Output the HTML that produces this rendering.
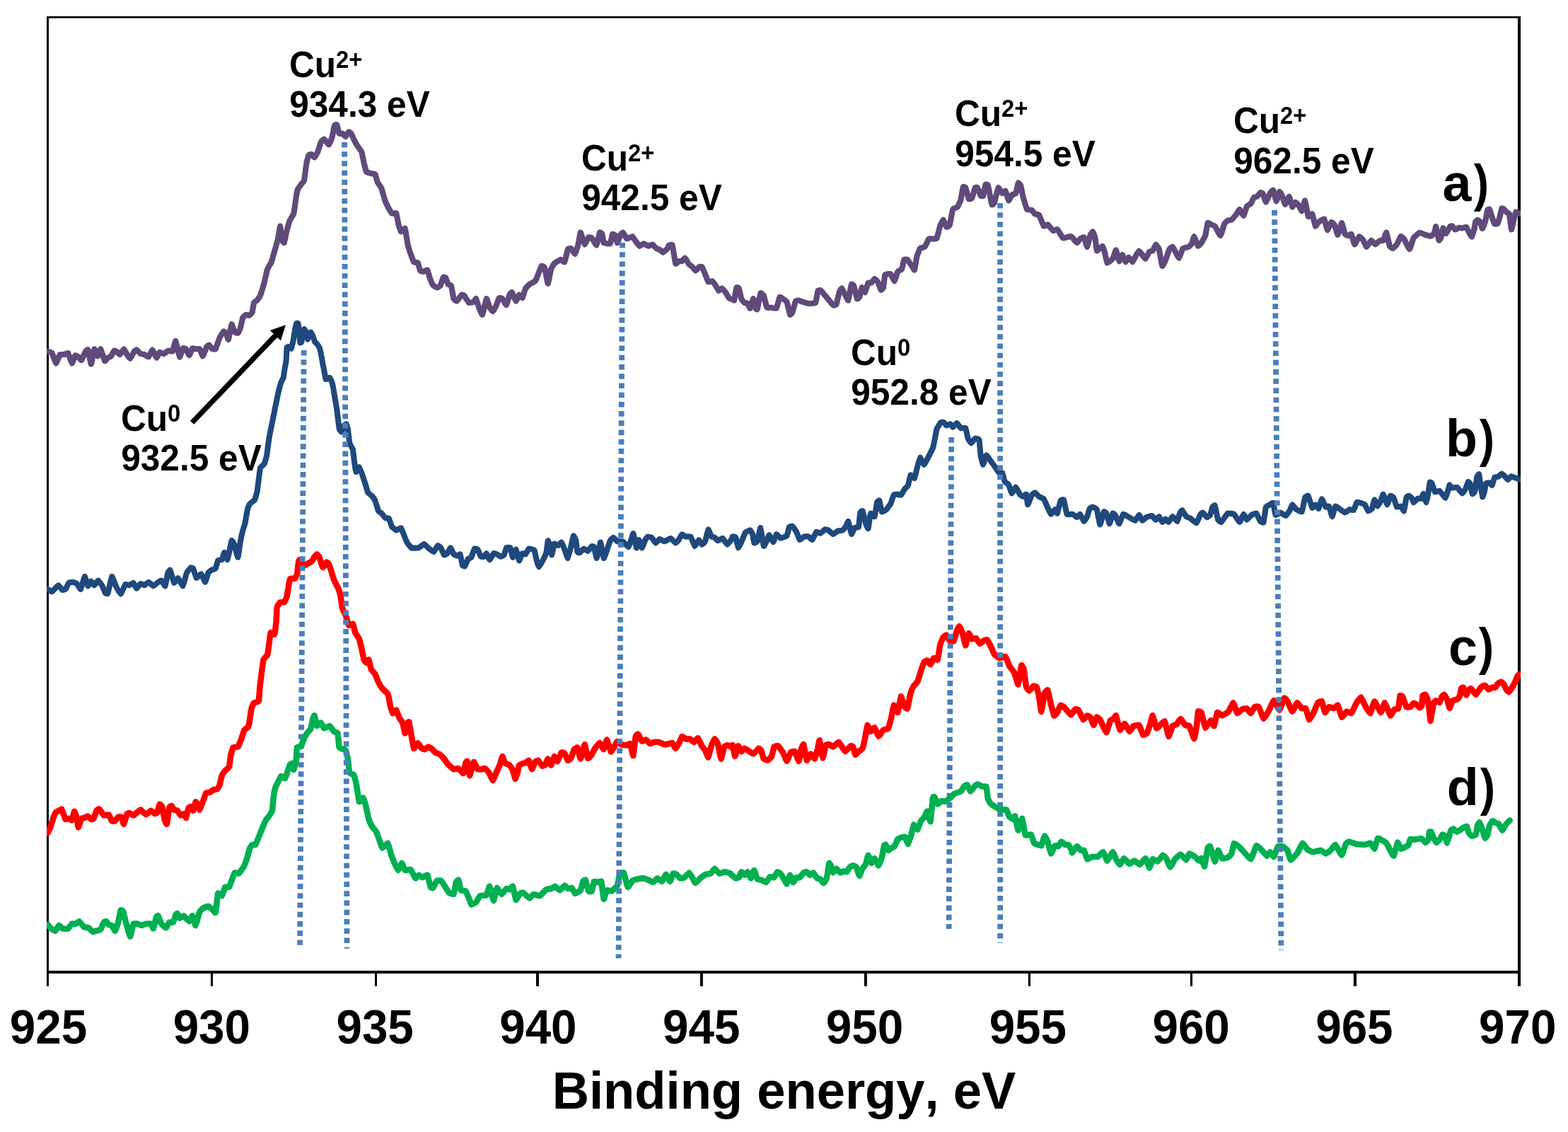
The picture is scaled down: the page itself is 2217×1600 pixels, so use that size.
<!DOCTYPE html>
<html lang="en"><head><meta charset="utf-8"><title>XPS Cu 2p spectra</title>
<style>
html,body{margin:0;padding:0;background:#fff;}
body{width:2217px;height:1600px;overflow:hidden;}
svg{display:block;}
text{font-family:"Liberation Sans",sans-serif;font-weight:bold;fill:#000;font-kerning:none;}
.tick{font-size:65.5px;text-anchor:middle;}
.title{font-size:72.4px;text-anchor:middle;}
.ann{font-size:49.6px;}
.sup{font-size:32.7px;}
.lab{font-size:73.5px;}
.curve{fill:none;stroke-linejoin:round;stroke-linecap:round;}
.dot{fill:none;stroke:#4A7EBB;stroke-width:7.8;stroke-dasharray:7.6 5.63;}
.ax{stroke:#000;fill:none;}
</style></head><body>
<svg width="2217" height="1600" viewBox="0 0 2217 1600">
<rect x="0" y="0" width="2217" height="1600" fill="#fff"/>
<defs><clipPath id="plot"><rect x="66.0" y="24.4" width="2084.05" height="1349.55"/></clipPath></defs>
<line class="ax" x1="65.95" y1="24.4" x2="2150.05" y2="24.4" stroke-width="2.8"/>
<line class="ax" x1="2148.0" y1="23.0" x2="2148.0" y2="1393.95" stroke-width="4.1"/>
<line class="ax" x1="67.45" y1="23.049999999999997" x2="67.45" y2="1393.95" stroke-width="3.0"/>
<line class="ax" x1="65.95" y1="1373.95" x2="2150.0" y2="1373.95" stroke-width="4.0"/>
<line class="ax" x1="299.5" y1="1373.95" x2="299.5" y2="1393.95" stroke-width="3.1"/>
<line class="ax" x1="531.5" y1="1373.95" x2="531.5" y2="1393.95" stroke-width="3.0"/>
<line class="ax" x1="760.0" y1="1373.95" x2="760.0" y2="1393.95" stroke-width="4.0"/>
<line class="ax" x1="991.9" y1="1373.95" x2="991.9" y2="1393.95" stroke-width="4.0"/>
<line class="ax" x1="1223.9" y1="1373.95" x2="1223.9" y2="1393.95" stroke-width="4.0"/>
<line class="ax" x1="1455.4" y1="1373.95" x2="1455.4" y2="1393.95" stroke-width="3.2"/>
<line class="ax" x1="1684.4" y1="1373.95" x2="1684.4" y2="1393.95" stroke-width="3.2"/>
<line class="ax" x1="1915.9" y1="1373.95" x2="1915.9" y2="1393.95" stroke-width="4.2"/>
<g transform="translate(408.88,108.70) scale(1,1.045)"><text class="ann" x="0" y="0">Cu<tspan class="sup" dy="-12.44">2+</tspan></text></g>
<g transform="translate(409.18,164.80) scale(1,1.045)"><text class="ann" x="0" y="0">934.3 eV</text></g>
<g transform="translate(821.88,240.70) scale(1,1.045)"><text class="ann" x="0" y="0">Cu<tspan class="sup" dy="-12.44">2+</tspan></text></g>
<g transform="translate(822.18,297.00) scale(1,1.045)"><text class="ann" x="0" y="0">942.5 eV</text></g>
<g transform="translate(1349.88,177.90) scale(1,1.045)"><text class="ann" x="0" y="0">Cu<tspan class="sup" dy="-12.44">2+</tspan></text></g>
<g transform="translate(1350.18,234.80) scale(1,1.045)"><text class="ann" x="0" y="0">954.5 eV</text></g>
<g transform="translate(1743.88,187.90) scale(1,1.045)"><text class="ann" x="0" y="0">Cu<tspan class="sup" dy="-12.44">2+</tspan></text></g>
<g transform="translate(1744.18,244.80) scale(1,1.045)"><text class="ann" x="0" y="0">962.5 eV</text></g>
<g transform="translate(1202.88,515.70) scale(1,1.045)"><text class="ann" x="0" y="0">Cu<tspan class="sup" dy="-12.44">0</tspan></text></g>
<g transform="translate(1203.18,572.00) scale(1,1.045)"><text class="ann" x="0" y="0">952.8 eV</text></g>
<g transform="translate(170.88,608.70) scale(1,1.045)"><text class="ann" x="0" y="0">Cu<tspan class="sup" dy="-12.44">0</tspan></text></g>
<g transform="translate(171.18,665.00) scale(1,1.045)"><text class="ann" x="0" y="0">932.5 eV</text></g>
<g clip-path="url(#plot)">
<path class="curve" stroke="#604A7B" stroke-width="8.2" d="M67.5,496.7C67.8,496.8 73.0,498.1 73.5,498.9C74.1,499.8 78.6,513.5 79.2,513.6C79.7,513.7 84.3,501.8 84.8,501.2C85.4,500.6 89.9,501.3 90.5,501.2C91.0,501.1 95.5,498.3 96.1,498.9C96.7,499.6 101.2,513.4 101.7,513.6C102.2,513.8 105.8,502.8 106.3,502.3C106.7,501.9 110.3,504.2 110.8,504.6C111.2,504.9 114.8,509.5 115.3,509.1C115.8,508.7 120.5,497.4 120.9,496.7C121.4,495.9 123.9,493.5 124.3,494.4C124.7,495.3 128.4,514.8 128.8,514.7C129.3,514.7 132.9,493.9 133.3,493.3C133.8,492.7 137.4,503.4 137.8,503.4C138.3,503.4 141.8,493.0 142.4,493.3C142.9,493.6 147.5,509.6 148.0,510.2C148.5,510.8 152.1,506.0 152.5,505.7C153.0,505.4 156.6,504.0 157.0,503.4C157.5,502.9 161.1,495.8 161.5,495.6C162.0,495.3 165.7,497.5 166.0,497.8C166.4,498.1 169.0,501.4 169.4,501.2C169.9,501.0 174.6,493.3 175.1,493.3C175.6,493.3 179.1,500.5 179.6,501.2C180.0,501.9 183.6,507.1 184.1,506.8C184.6,506.6 189.3,497.3 189.7,496.7C190.2,496.1 192.7,494.3 193.1,494.4C193.6,494.6 198.2,499.7 198.8,500.1C199.3,500.4 203.8,501.0 204.4,501.2C205.0,501.4 209.5,504.9 210.0,504.6C210.6,504.2 215.1,494.4 215.7,494.4C216.2,494.5 220.8,505.5 221.3,505.7C221.8,505.9 225.3,498.1 225.8,497.8C226.3,497.5 230.9,500.2 231.5,500.1C232.1,500.0 237.6,495.7 238.2,495.6C238.9,495.4 243.4,497.4 243.9,496.7C244.4,496.0 247.9,481.6 248.4,482.0C248.9,482.4 253.5,504.1 254.0,504.6C254.6,505.1 258.1,492.7 258.6,492.2C259.0,491.6 262.6,492.8 263.1,493.3C263.5,493.8 267.1,502.4 267.6,502.3C268.0,502.3 271.6,492.6 272.1,492.2C272.5,491.7 276.1,493.2 276.6,493.3C277.1,493.4 281.7,492.8 282.2,493.3C282.8,493.8 286.3,503.6 286.8,503.4C287.3,503.3 291.9,490.7 292.4,489.9C292.9,489.1 295.4,487.5 295.8,487.7C296.2,487.8 299.8,493.0 300.3,493.3C300.7,493.6 304.3,494.1 304.8,493.3C305.3,492.5 309.9,478.7 310.5,477.5C311.0,476.3 315.6,468.8 316.1,468.5C316.5,468.1 319.1,470.2 319.5,470.7C319.8,471.3 322.5,480.4 322.9,479.8C323.3,479.1 326.9,458.8 327.4,458.3C327.8,457.8 331.4,469.0 331.9,469.6C332.3,470.2 336.0,471.0 336.4,470.7C336.8,470.4 339.4,465.0 339.8,464.0C340.1,462.9 342.8,450.3 343.2,449.3C343.6,448.3 347.2,445.0 347.7,444.8C348.1,444.6 351.7,446.1 352.2,445.9C352.6,445.7 356.4,442.3 356.7,441.4C357.0,440.5 358.6,428.7 359.0,427.9C359.3,427.0 363.0,425.0 363.5,424.5C363.9,424.0 367.5,418.9 368.0,417.7C368.5,416.5 373.1,401.5 373.6,399.7C374.1,397.8 377.6,381.9 378.1,380.5C378.6,379.0 383.3,371.6 383.8,370.3C384.3,369.0 387.8,356.1 388.3,354.5C388.7,353.0 392.4,340.5 392.8,338.7C393.2,337.0 395.9,319.6 396.2,319.6C396.5,319.6 398.2,337.6 398.4,338.7C398.7,339.9 401.5,343.8 401.8,343.2C402.2,342.7 404.8,329.0 405.2,327.5C405.6,325.9 409.2,313.0 409.7,311.7C410.2,310.4 414.9,303.2 415.4,301.5C415.8,299.8 418.5,279.5 418.8,277.8C419.0,276.1 420.7,268.5 421.0,267.7C421.3,266.8 425.1,261.5 425.5,260.9C426.0,260.3 429.6,256.8 430.0,255.3C430.4,253.7 433.1,232.2 433.4,230.4C433.8,228.6 436.5,219.8 436.8,219.2C437.1,218.5 439.8,217.9 440.2,218.0C440.6,218.2 444.3,222.7 444.7,222.5C445.2,222.4 448.8,215.7 449.2,214.6C449.7,213.6 453.3,202.0 453.7,201.1C454.2,200.2 457.7,196.4 458.2,196.6C458.8,196.8 464.4,204.6 465.0,204.5C465.6,204.4 469.1,195.7 469.5,194.3C469.9,193.0 472.6,178.3 472.9,177.4C473.2,176.5 476.0,175.7 476.3,176.3C476.6,176.8 479.3,188.1 479.7,188.7C480.1,189.3 483.7,188.5 484.2,188.7C484.6,188.9 488.2,193.3 488.7,193.2C489.2,193.1 492.8,186.7 493.2,186.4C493.6,186.2 496.2,188.1 496.6,188.7C497.0,189.3 500.7,197.9 501.1,198.8C501.6,199.7 505.1,206.0 505.6,206.7C506.1,207.5 510.8,213.5 511.3,214.6C511.7,215.8 514.3,229.0 514.6,230.4C515.0,231.8 517.5,242.1 518.0,242.8C518.5,243.6 524.2,244.9 524.8,245.1C525.4,245.3 530.0,245.6 530.4,246.2C530.9,246.8 533.4,256.5 533.8,257.5C534.3,258.5 539.0,265.3 539.5,266.5C540.0,267.8 543.5,281.0 544.0,282.3C544.4,283.6 548.0,291.5 548.5,292.5C549.0,293.4 553.7,301.1 554.1,301.5C554.6,302.0 556.6,301.5 556.9,301.5C557.2,301.5 560.0,300.7 560.3,301.5C560.6,302.4 563.4,317.1 563.7,318.4C564.0,319.7 566.6,327.2 567.1,327.5C567.5,327.7 572.3,322.2 572.7,322.9C573.2,323.7 575.8,341.6 576.1,343.2C576.4,344.9 579.0,354.3 579.5,355.7C579.9,357.0 584.6,369.5 585.1,370.3C585.7,371.1 590.3,370.8 590.8,371.5C591.2,372.1 593.8,382.1 594.2,382.7C594.5,383.4 598.2,383.9 598.7,383.9C599.2,383.8 603.9,381.2 604.3,381.6C604.8,382.1 607.3,391.8 607.7,392.9C608.1,394.0 611.7,402.4 612.2,403.0C612.7,403.7 617.3,406.4 617.8,406.4C618.4,406.5 621.9,404.9 622.4,404.2C622.8,403.4 626.5,392.3 626.9,391.8C627.3,391.2 629.9,392.4 630.3,392.9C630.6,393.4 633.2,401.3 633.6,401.9C634.0,402.5 637.8,403.2 638.1,404.2C638.5,405.2 641.1,421.1 641.5,422.2C641.9,423.3 645.5,425.9 646.0,425.6C646.6,425.3 652.3,417.0 652.8,416.6C653.3,416.2 655.7,417.1 656.2,417.7C656.7,418.3 662.3,427.4 663.0,427.9C663.6,428.3 669.2,427.0 669.7,426.7C670.2,426.5 672.7,421.8 673.1,422.2C673.5,422.7 677.2,434.6 677.6,435.8C678.1,436.9 681.6,445.5 682.1,444.8C682.7,444.1 687.3,422.7 687.8,422.2C688.3,421.7 691.9,433.7 692.3,434.6C692.8,435.5 696.4,440.4 696.8,440.3C697.3,440.2 700.9,433.3 701.3,432.4C701.8,431.4 705.4,421.6 705.8,421.1C706.3,420.6 709.8,421.7 710.4,422.2C710.9,422.7 715.5,431.5 716.0,431.2C716.5,431.0 720.1,417.5 720.5,416.6C720.9,415.7 723.4,412.7 723.9,413.2C724.3,413.6 729.0,425.4 729.5,425.6C730.0,425.8 733.6,416.8 734.0,416.6C734.5,416.4 738.1,421.5 738.6,421.1C739.0,420.6 742.6,408.5 743.1,407.6C743.6,406.6 748.0,402.4 748.7,401.9C749.4,401.4 756.0,398.1 756.6,397.4C757.2,396.7 760.7,388.3 761.1,387.2C761.6,386.2 765.2,376.4 765.6,376.0C766.1,375.5 769.7,377.0 770.1,378.2C770.6,379.5 774.2,400.7 774.7,400.8C775.1,400.9 778.7,381.9 779.2,380.5C779.6,379.1 783.0,373.3 783.7,372.6C784.4,371.9 792.0,367.1 792.7,366.9C793.4,366.8 797.8,371.1 798.3,370.3C798.9,369.6 802.4,353.2 802.9,352.3C803.3,351.3 806.9,350.8 807.4,351.1C807.9,351.5 812.5,359.3 813.0,359.0C813.5,358.8 817.1,347.0 817.5,345.5C817.9,344.0 820.5,328.6 820.9,328.6C821.4,328.6 826.0,345.2 826.6,345.5C827.1,345.8 831.7,335.8 832.2,335.4C832.7,334.9 836.1,335.9 836.7,336.5C837.3,337.0 842.9,347.0 843.5,346.6C844.0,346.2 847.6,329.4 848.0,328.6C848.4,327.8 851.1,330.1 851.4,330.8C851.7,331.6 853.1,342.6 853.6,343.2C854.2,343.9 862.0,345.0 862.7,344.4C863.3,343.8 865.6,331.4 866.0,330.8C866.4,330.3 870.2,332.5 870.6,333.1C870.9,333.7 872.5,343.3 872.8,343.2C873.1,343.2 876.9,332.7 877.3,332.0C877.7,331.2 880.3,328.3 880.7,328.6C881.2,328.9 885.7,337.3 886.3,337.6C887.0,337.9 893.6,334.1 894.2,334.2C894.9,334.4 898.2,340.3 898.8,341.0C899.3,341.7 903.8,347.6 904.4,347.8C905.0,347.9 909.4,344.4 910.0,344.4C910.7,344.4 916.2,347.7 916.8,347.8C917.4,347.8 921.9,345.3 922.4,345.5C923.0,345.7 927.5,350.8 928.1,351.1C928.7,351.5 933.3,353.1 933.7,353.4C934.2,353.7 936.7,356.8 937.1,356.8C937.6,356.7 942.3,352.8 942.8,352.3C943.2,351.8 945.7,346.9 946.1,346.6C946.5,346.4 950.2,345.3 950.6,346.6C951.1,347.9 954.7,371.5 955.2,372.6C955.6,373.7 959.2,369.4 959.7,369.2C960.1,369.0 963.7,369.4 964.2,369.2C964.6,369.0 968.2,364.5 968.7,364.7C969.2,364.9 973.8,373.1 974.3,373.7C974.8,374.3 978.4,376.6 978.9,377.1C979.3,377.5 982.9,382.7 983.4,382.7C983.9,382.7 988.6,377.4 989.0,377.1C989.5,376.8 992.0,376.6 992.4,377.1C992.8,377.6 996.5,386.2 996.9,387.2C997.4,388.3 1000.9,398.0 1001.4,398.5C1001.9,399.0 1006.6,397.2 1007.1,397.4C1007.6,397.6 1011.1,402.4 1011.6,403.0C1012.0,403.7 1015.6,410.7 1016.1,410.9C1016.5,411.2 1020.1,407.5 1020.6,407.6C1021.0,407.6 1024.6,411.4 1025.1,412.1C1025.6,412.7 1030.2,420.5 1030.7,421.1C1031.3,421.7 1036.0,423.2 1036.4,423.3C1036.8,423.5 1037.8,425.3 1038.1,424.5C1038.3,423.6 1041.1,407.3 1041.4,406.4C1041.8,405.6 1044.5,406.8 1044.8,407.6C1045.2,408.3 1047.8,421.2 1048.2,422.2C1048.6,423.2 1052.3,427.5 1052.7,427.9C1053.2,428.2 1056.8,428.6 1057.2,429.0C1057.6,429.4 1060.2,436.1 1060.6,435.8C1061.0,435.4 1064.7,422.2 1065.1,422.2C1065.5,422.2 1068.2,435.0 1068.5,435.8C1068.8,436.5 1070.4,438.0 1070.8,436.9C1071.1,435.8 1074.8,415.3 1075.3,414.3C1075.7,413.4 1079.3,416.7 1079.8,417.7C1080.2,418.7 1083.8,433.8 1084.3,434.6C1084.8,435.5 1089.3,434.6 1089.9,434.6C1090.6,434.7 1097.2,436.5 1097.8,435.8C1098.5,435.0 1101.9,420.6 1102.4,420.0C1102.8,419.3 1106.4,421.9 1106.9,422.2C1107.4,422.6 1112.0,425.6 1112.5,426.7C1113.0,427.9 1116.6,444.1 1117.0,444.8C1117.4,445.5 1120.0,442.4 1120.4,441.4C1120.8,440.4 1124.5,426.5 1124.9,425.6C1125.4,424.8 1128.9,424.4 1129.4,424.5C1129.9,424.5 1134.4,426.5 1135.1,426.7C1135.7,427.0 1142.1,428.9 1143.0,429.0C1143.9,429.0 1152.4,428.8 1153.1,427.9C1153.8,427.0 1156.1,411.8 1156.5,410.9C1156.9,410.1 1159.9,409.9 1161.0,410.9C1162.1,412.0 1176.9,430.3 1177.9,431.2C1179.0,432.2 1182.0,431.1 1182.5,430.1C1182.9,429.2 1186.6,413.2 1187.0,412.1C1187.4,410.9 1190.0,407.3 1190.4,407.6C1190.7,407.8 1194.4,415.7 1194.9,416.6C1195.3,417.4 1198.9,425.2 1199.4,424.5C1199.8,423.7 1203.5,402.9 1203.9,401.9C1204.3,400.9 1206.9,403.2 1207.3,404.2C1207.7,405.2 1211.4,421.4 1211.8,422.2C1212.2,423.0 1214.8,420.8 1215.2,420.0C1215.5,419.2 1218.2,406.8 1218.6,406.4C1219.0,406.1 1222.6,413.5 1223.1,413.2C1223.5,412.9 1227.1,400.3 1227.6,399.7C1228.0,399.0 1231.6,399.9 1232.1,399.7C1232.5,399.4 1236.2,394.1 1236.6,394.0C1237.1,394.0 1240.7,397.7 1241.1,398.5C1241.6,399.3 1245.2,409.4 1245.6,409.8C1246.0,410.2 1248.7,407.5 1249.0,406.4C1249.3,405.4 1250.8,389.3 1251.3,388.4C1251.8,387.4 1258.5,386.8 1259.2,387.2C1259.8,387.7 1264.3,397.6 1264.8,397.4C1265.3,397.2 1268.8,384.7 1269.3,383.9C1269.8,383.0 1274.5,381.3 1275.0,380.5C1275.4,379.6 1278.0,367.6 1278.3,366.9C1278.7,366.3 1282.4,366.5 1282.9,366.9C1283.4,367.3 1288.0,374.1 1288.5,374.8C1289.0,375.6 1292.6,382.2 1293.0,381.6C1293.4,381.0 1296.0,364.0 1296.4,362.4C1296.8,360.9 1300.3,351.8 1300.9,351.1C1301.5,350.5 1307.1,349.6 1307.7,348.9C1308.3,348.2 1312.7,338.2 1313.3,337.6C1313.9,337.0 1319.5,337.7 1320.1,337.6C1320.7,337.6 1324.2,337.4 1324.6,336.5C1325.1,335.6 1328.7,320.9 1329.1,319.6C1329.6,318.3 1333.2,310.5 1333.6,310.5C1334.1,310.6 1337.7,320.3 1338.1,320.7C1338.6,321.1 1342.2,319.7 1342.7,318.4C1343.1,317.2 1346.6,297.2 1347.2,295.9C1347.7,294.6 1353.4,293.2 1353.9,292.5C1354.5,291.8 1358.1,283.7 1358.4,282.3C1358.8,280.9 1361.5,265.1 1361.8,264.3C1362.2,263.4 1364.8,264.6 1365.2,265.4C1365.6,266.3 1369.3,280.5 1369.7,281.2C1370.2,281.9 1373.8,280.9 1374.2,280.1C1374.7,279.3 1378.4,266.1 1378.8,265.4C1379.1,264.7 1381.7,264.8 1382.1,265.4C1382.5,266.0 1386.3,276.1 1386.7,276.7C1387.0,277.3 1389.7,277.5 1390.0,276.7C1390.4,275.9 1393.1,261.6 1393.4,260.9C1393.8,260.2 1396.4,260.6 1396.8,262.0C1397.3,263.4 1402.0,287.9 1402.4,289.1C1402.9,290.3 1405.4,288.0 1405.8,286.8C1406.3,285.7 1410.9,266.1 1411.5,265.4C1412.0,264.7 1416.6,273.1 1417.1,273.3C1417.6,273.5 1421.2,269.4 1421.6,269.9C1422.1,270.4 1425.7,283.2 1426.1,283.5C1426.6,283.7 1430.1,276.1 1430.6,275.6C1431.2,275.1 1435.8,274.1 1436.3,273.3C1436.7,272.5 1439.3,259.2 1439.7,258.6C1440.0,258.1 1442.7,261.1 1443.1,262.0C1443.4,263.0 1446.0,276.1 1446.4,277.8C1446.9,279.5 1451.5,294.9 1452.1,295.9C1452.7,296.8 1458.3,296.7 1458.9,297.0C1459.4,297.3 1462.9,302.3 1463.4,302.6C1463.9,303.0 1468.4,302.9 1469.0,303.8C1469.6,304.6 1475.2,318.9 1475.8,319.6C1476.4,320.2 1480.7,317.0 1481.4,317.3C1482.1,317.6 1488.6,326.0 1489.3,326.3C1490.0,326.7 1494.3,323.6 1495.0,324.1C1495.6,324.6 1502.2,335.9 1502.9,336.5C1503.5,337.0 1507.9,335.5 1508.5,335.4C1509.1,335.2 1513.8,334.2 1514.1,334.2C1514.5,334.2 1515.4,334.9 1515.8,335.4C1516.2,335.8 1522.0,343.1 1522.6,343.2C1523.1,343.4 1526.6,338.0 1527.1,337.6C1527.6,337.2 1532.2,334.8 1532.7,335.4C1533.2,335.9 1536.8,349.1 1537.2,348.9C1537.7,348.7 1541.3,333.0 1541.7,332.0C1542.1,330.9 1544.8,327.2 1545.1,327.5C1545.5,327.7 1548.2,335.1 1548.5,336.5C1548.8,337.8 1550.3,354.0 1550.8,354.5C1551.3,355.1 1558.1,347.6 1558.7,347.8C1559.2,347.9 1561.7,355.6 1562.0,356.8C1562.4,358.0 1564.9,371.0 1565.4,371.5C1566.0,371.9 1572.7,366.7 1573.3,365.8C1574.0,364.9 1577.4,353.2 1577.8,353.4C1578.3,353.6 1581.9,368.9 1582.4,369.2C1582.8,369.5 1586.4,360.1 1586.9,360.2C1587.3,360.2 1590.9,370.2 1591.4,370.3C1591.8,370.5 1595.4,363.6 1595.9,363.6C1596.4,363.6 1601.0,370.4 1601.5,370.3C1602.0,370.2 1605.6,362.1 1606.0,361.3C1606.5,360.5 1610.1,354.6 1610.6,354.5C1611.0,354.5 1614.6,359.6 1615.1,360.2C1615.5,360.7 1619.1,366.0 1619.6,365.8C1620.1,365.6 1624.7,356.2 1625.2,355.7C1625.7,355.1 1629.3,355.0 1629.7,354.5C1630.2,354.0 1633.8,345.6 1634.3,345.5C1634.7,345.4 1638.3,350.8 1638.8,352.3C1639.2,353.8 1642.8,375.2 1643.3,376.0C1643.7,376.8 1647.3,369.3 1647.8,368.1C1648.3,366.9 1652.9,353.2 1653.4,352.3C1653.9,351.3 1657.5,348.7 1657.9,348.9C1658.4,349.1 1662.0,356.0 1662.5,356.8C1662.9,357.6 1666.5,365.0 1667.0,364.7C1667.5,364.4 1671.9,351.9 1672.6,351.1C1673.3,350.4 1679.9,349.2 1680.5,348.9C1681.1,348.6 1684.6,345.1 1685.0,344.4C1685.4,343.6 1688.0,334.1 1688.4,334.2C1688.9,334.4 1693.5,347.3 1694.0,347.8C1694.6,348.2 1698.0,344.0 1698.6,343.2C1699.1,342.5 1703.7,334.5 1704.2,333.1C1704.6,331.7 1707.2,315.8 1707.6,315.0C1708.0,314.3 1711.6,317.1 1712.1,317.3C1712.6,317.5 1717.1,318.8 1717.7,319.6C1718.4,320.3 1725.0,333.3 1725.6,333.1C1726.3,332.9 1730.8,317.2 1731.3,316.2C1731.8,315.1 1735.3,311.9 1735.8,311.7C1736.3,311.4 1740.8,311.0 1741.4,310.5C1742.0,310.1 1747.6,303.4 1748.2,302.6C1748.8,301.9 1752.2,295.8 1752.7,295.9C1753.2,296.0 1757.8,305.1 1758.3,304.9C1758.9,304.7 1762.4,292.2 1762.9,291.4C1763.4,290.5 1768.0,288.6 1768.5,288.0C1769.0,287.3 1772.6,279.5 1773.0,278.9C1773.5,278.4 1777.1,278.2 1777.5,277.8C1778.0,277.5 1781.6,272.4 1782.0,272.2C1782.4,271.9 1785.0,272.6 1785.4,273.3C1785.8,274.0 1789.4,285.7 1789.9,285.7C1790.4,285.7 1795.1,274.1 1795.6,273.3C1796.1,272.5 1799.6,268.2 1800.1,268.8C1800.5,269.4 1804.2,284.5 1804.6,284.6C1805.1,284.7 1808.7,271.5 1809.1,271.0C1809.5,270.6 1812.1,274.7 1812.5,275.6C1812.9,276.5 1816.5,289.0 1817.0,289.1C1817.5,289.2 1822.1,277.6 1822.7,277.8C1823.2,278.0 1826.7,292.1 1827.2,292.5C1827.6,292.9 1831.2,285.8 1831.7,285.7C1832.1,285.6 1835.7,289.6 1836.2,290.2C1836.6,290.8 1840.3,298.5 1840.7,298.1C1841.2,297.8 1844.8,283.1 1845.2,283.5C1845.7,283.9 1849.2,305.1 1849.7,306.0C1850.2,307.0 1854.9,302.0 1855.4,302.6C1855.9,303.3 1859.4,319.0 1859.9,319.6C1860.3,320.1 1863.8,314.4 1864.4,313.9C1865.0,313.4 1871.7,308.8 1872.3,309.4C1872.9,310.0 1876.3,325.0 1876.8,325.2C1877.3,325.4 1881.9,314.3 1882.4,313.9C1883.0,313.6 1886.5,317.5 1887.0,318.4C1887.4,319.3 1891.0,332.1 1891.5,332.0C1892.0,331.8 1896.6,315.1 1897.1,315.0C1897.6,315.0 1901.2,329.9 1901.6,330.8C1902.1,331.7 1905.7,333.1 1906.1,333.1C1906.6,333.1 1910.2,330.2 1910.6,330.8C1911.1,331.5 1914.6,345.3 1915.2,345.5C1915.7,345.7 1921.3,334.5 1921.9,334.2C1922.6,333.9 1927.1,339.1 1927.6,339.9C1928.1,340.6 1931.5,348.9 1932.1,348.9C1932.6,348.9 1938.2,340.0 1938.9,339.9C1939.5,339.7 1943.9,345.5 1944.5,345.5C1945.1,345.5 1950.7,340.1 1951.3,339.9C1951.8,339.6 1955.3,340.4 1955.8,339.9C1956.2,339.3 1959.8,328.2 1960.3,328.6C1960.7,329.0 1964.4,346.6 1964.8,347.8C1965.3,348.9 1968.8,351.3 1969.3,351.1C1969.8,351.0 1974.4,346.4 1975.0,345.5C1975.5,344.7 1980.1,334.6 1980.6,334.2C1981.1,333.8 1984.5,336.7 1985.1,337.6C1985.7,338.5 1992.3,352.4 1993.0,352.3C1993.7,352.2 1998.0,337.1 1998.8,336.0C1999.5,334.8 2006.6,329.0 2007.3,328.8C2008.1,328.6 2013.7,331.4 2014.5,331.7C2015.3,331.9 2022.4,333.9 2023.1,333.8C2023.8,333.7 2027.7,330.2 2028.1,329.5C2028.5,328.8 2029.9,319.7 2030.2,320.2C2030.6,320.7 2034.2,338.8 2034.5,339.5C2034.9,340.3 2037.1,336.8 2037.4,336.0C2037.7,335.1 2039.9,322.7 2040.3,322.4C2040.6,322.1 2044.1,330.3 2044.6,330.2C2045.1,330.1 2049.8,320.8 2050.3,320.2C2050.7,319.7 2052.8,319.3 2053.1,319.5C2053.5,319.7 2056.9,324.4 2057.4,324.5C2057.9,324.6 2062.7,321.8 2063.2,321.7C2063.7,321.5 2067.0,322.4 2067.5,322.4C2068.0,322.3 2072.7,320.6 2073.2,320.9C2073.7,321.3 2077.1,328.8 2077.5,329.5C2077.9,330.2 2080.7,334.9 2081.1,334.5C2081.4,334.2 2084.4,324.1 2084.6,323.1C2084.9,322.0 2085.8,314.4 2086.1,313.8C2086.3,313.2 2088.6,311.0 2088.9,310.9C2089.2,310.9 2092.1,312.5 2092.5,313.1C2092.9,313.7 2095.7,323.2 2096.1,323.1C2096.5,323.0 2100.0,313.0 2100.4,311.6C2100.7,310.3 2102.9,297.4 2103.2,296.6C2103.5,295.8 2105.8,295.4 2106.1,295.9C2106.4,296.4 2109.3,306.3 2109.7,307.3C2110.0,308.4 2112.9,316.2 2113.3,316.6C2113.6,317.1 2117.2,316.5 2117.5,315.9C2117.9,315.3 2120.8,305.6 2121.1,304.5C2121.4,303.4 2123.0,294.9 2123.3,294.5C2123.5,294.0 2125.8,294.9 2126.1,295.2C2126.5,295.5 2130.0,299.8 2130.4,300.2C2130.8,300.5 2133.7,301.1 2134.0,302.3C2134.3,303.5 2136.5,324.1 2136.9,324.5C2137.2,324.9 2140.1,311.5 2140.4,310.2C2140.8,309.0 2142.9,299.9 2143.3,299.5C2143.7,299.0 2147.8,301.5 2148.0,301.6"/>
<path class="curve" stroke="#1F497D" stroke-width="8.1" d="M67.5,832.8C67.8,833.0 73.0,836.2 73.5,836.2C74.1,836.1 77.6,832.1 78.1,831.7C78.5,831.2 82.1,827.1 82.6,827.2C83.1,827.3 87.7,833.7 88.2,833.9C88.7,834.2 92.3,833.3 92.7,832.8C93.2,832.3 96.7,824.3 97.2,823.8C97.7,823.3 102.3,822.6 102.9,822.7C103.4,822.7 107.9,824.4 108.5,824.9C109.1,825.4 113.6,833.3 114.2,832.8C114.7,832.3 119.3,815.0 119.8,814.8C120.3,814.5 123.9,828.0 124.3,828.3C124.8,828.6 128.4,821.6 128.8,821.5C129.3,821.5 132.8,827.2 133.3,827.2C133.8,827.1 138.4,820.3 139.0,820.4C139.5,820.5 144.1,827.4 144.6,828.3C145.1,829.2 148.7,837.9 149.1,838.4C149.5,839.0 152.1,839.6 152.5,838.4C153.0,837.3 157.6,815.3 158.1,814.8C158.7,814.2 163.2,827.1 163.8,828.3C164.4,829.5 169.9,839.7 170.6,839.6C171.2,839.5 176.7,826.7 177.3,826.0C177.9,825.4 182.4,827.3 183.0,827.2C183.5,827.1 188.1,823.6 188.6,823.8C189.1,824.0 192.6,831.6 193.1,831.7C193.6,831.7 198.2,825.1 198.8,824.9C199.3,824.7 203.8,827.3 204.4,827.2C205.0,827.1 209.4,822.6 210.0,822.7C210.7,822.7 216.2,828.2 216.8,828.3C217.4,828.4 221.9,824.2 222.5,823.8C223.0,823.4 227.5,820.2 228.1,820.4C228.7,820.6 233.3,828.8 233.7,828.3C234.2,827.8 236.8,811.4 237.1,810.2C237.5,809.1 240.1,805.1 240.5,805.7C241.0,806.4 245.6,823.2 246.1,823.8C246.7,824.3 251.2,816.8 251.8,817.0C252.4,817.2 257.9,828.7 258.6,828.3C259.2,827.9 263.6,810.4 264.2,809.1C264.8,807.8 269.4,802.6 269.8,802.3C270.3,802.1 272.8,802.7 273.2,803.5C273.6,804.2 277.2,816.6 277.7,817.0C278.3,817.4 283.9,811.1 284.5,811.4C285.1,811.7 289.6,822.8 290.1,822.7C290.7,822.5 294.2,810.0 294.7,809.1C295.1,808.3 298.7,806.0 299.2,805.7C299.7,805.4 304.4,804.2 304.8,803.5C305.3,802.8 307.7,792.8 308.2,792.2C308.6,791.6 313.4,791.6 313.8,791.1C314.3,790.5 316.8,780.9 317.2,780.9C317.6,780.9 321.3,791.3 321.7,791.1C322.1,790.8 324.8,776.6 325.1,775.3C325.4,773.9 327.1,764.3 327.4,764.0C327.7,763.7 330.3,767.3 330.8,768.5C331.2,769.7 335.9,787.8 336.4,787.7C336.9,787.6 339.4,768.1 339.8,766.2C340.1,764.4 342.8,751.8 343.2,750.5C343.5,749.1 346.2,740.7 346.6,739.2C346.9,737.6 349.6,721.3 349.9,720.0C350.3,718.6 352.8,712.8 353.3,712.1C353.8,711.4 359.6,707.3 360.1,706.5C360.6,705.6 363.2,696.6 363.5,695.2C363.8,693.8 365.5,679.9 365.7,678.2C366.0,676.6 367.6,662.5 368.0,661.3C368.4,660.2 373.2,656.5 373.6,655.7C374.1,654.8 376.7,646.2 377.0,644.4C377.4,642.6 380.0,622.0 380.4,619.6C380.8,617.2 384.5,599.3 384.9,597.0C385.4,594.8 389.0,576.7 389.4,574.5C389.9,572.3 393.5,554.7 393.9,553.0C394.3,551.3 397.0,541.6 397.3,540.6C397.7,539.7 400.4,535.0 400.7,533.8C401.0,532.7 402.8,519.0 403.0,518.1C403.1,517.1 403.8,515.6 403.9,514.8C404.0,514.1 405.0,503.6 405.0,502.4C405.1,501.2 405.5,491.7 405.6,491.1C405.8,490.5 407.6,489.9 407.9,490.0C408.2,490.0 411.5,493.2 411.8,492.8C412.2,492.3 414.4,482.2 414.7,480.9C414.9,479.6 416.7,468.5 416.9,467.3C417.1,466.1 419.0,457.7 419.2,457.1C419.4,456.6 421.2,456.6 421.4,457.1C421.6,457.7 423.0,467.1 423.1,468.5C423.3,469.8 424.1,483.6 424.3,484.3C424.4,485.0 426.3,484.0 426.5,483.2C426.7,482.3 428.0,468.2 428.2,467.3C428.4,466.4 430.2,464.9 430.5,465.1C430.8,465.2 433.1,470.0 433.3,470.7C433.6,471.5 434.8,479.7 435.0,479.8C435.2,479.8 437.1,472.4 437.3,471.9C437.5,471.3 439.3,469.4 439.5,469.6C439.8,469.8 442.1,474.6 442.4,475.2C442.7,475.9 444.9,482.6 445.2,483.2C445.5,483.7 448.3,486.1 448.6,486.6C448.9,487.0 451.7,491.4 452.0,492.2C452.3,493.0 454.0,501.3 454.3,502.4C454.5,503.5 456.3,513.7 456.5,514.8C456.7,516.0 458.6,525.1 458.8,526.2C459.0,527.2 460.1,535.7 460.5,536.1C460.9,536.5 465.7,533.6 466.1,533.8C466.6,534.1 469.2,539.4 469.5,540.6C469.9,541.9 472.6,556.7 472.9,558.7C473.2,560.6 476.0,576.6 476.3,579.0C476.6,581.3 479.3,604.5 479.7,606.0C480.0,607.6 482.7,610.8 483.1,610.6C483.4,610.3 486.1,602.1 486.4,601.5C486.8,601.0 489.5,598.9 489.8,599.3C490.1,599.6 491.9,606.9 492.1,608.3C492.3,609.7 494.0,625.0 494.3,626.4C494.7,627.7 498.5,634.0 498.9,635.4C499.2,636.7 500.9,651.9 501.1,653.4C501.3,655.0 503.0,666.6 503.4,667.0C503.7,667.3 507.4,660.0 507.9,660.2C508.3,660.4 511.9,670.2 512.4,671.5C512.8,672.7 516.5,683.8 516.9,685.0C517.3,686.3 519.8,695.5 520.3,696.3C520.7,697.1 525.4,700.2 525.9,700.8C526.4,701.4 530.0,706.5 530.4,707.6C530.9,708.7 534.5,721.3 535.0,722.2C535.4,723.1 539.0,725.1 539.5,725.6C540.0,726.1 544.6,732.1 545.1,732.4C545.6,732.7 549.2,731.8 549.6,732.4C550.1,733.0 553.9,744.2 554.1,744.8C554.4,745.4 554.4,744.8 554.7,745.0C555.0,745.3 559.7,749.5 560.3,749.5C560.9,749.6 566.5,745.8 567.1,746.1C567.6,746.5 571.1,756.4 571.6,757.4C572.0,758.5 575.6,766.7 576.1,767.6C576.6,768.4 581.0,774.0 581.7,774.4C582.5,774.7 591.0,774.6 591.9,774.4C592.8,774.1 599.1,768.7 599.8,768.7C600.5,768.7 604.8,773.8 605.4,774.4C606.1,774.9 612.7,780.2 613.3,780.0C614.0,779.8 618.5,771.2 619.0,771.0C619.5,770.7 623.0,773.7 623.5,774.4C623.9,775.0 627.5,784.1 628.0,784.5C628.4,784.9 632.1,782.8 632.5,782.2C633.0,781.7 636.6,774.3 637.0,774.4C637.5,774.4 641.1,782.8 641.5,783.4C642.0,783.9 645.6,785.6 646.0,785.6C646.5,785.6 650.2,782.7 650.6,783.4C651.0,784.1 653.6,798.3 653.9,799.2C654.3,800.0 656.9,800.7 657.3,800.3C657.7,799.8 661.4,790.8 661.8,790.1C662.3,789.5 665.9,788.6 666.4,787.9C666.8,787.2 670.4,776.0 670.9,775.5C671.3,774.9 674.9,776.0 675.4,776.6C675.8,777.2 679.4,786.3 679.9,786.8C680.3,787.3 684.0,787.0 684.4,786.8C684.8,786.5 687.4,782.0 687.8,782.2C688.2,782.5 691.8,791.3 692.3,791.3C692.8,791.3 697.4,782.6 697.9,782.2C698.4,781.9 701.9,783.1 702.5,783.4C703.0,783.6 707.6,786.7 708.1,786.8C708.6,786.8 712.2,785.1 712.6,784.5C713.0,783.9 715.5,774.9 716.0,774.4C716.4,773.8 721.2,773.7 721.6,774.4C722.1,775.0 724.6,787.8 725.0,787.9C725.4,788.0 729.1,776.4 729.5,776.6C730.0,776.8 733.6,792.1 734.0,792.4C734.5,792.7 738.1,782.7 738.6,782.2C739.0,781.8 742.6,783.7 743.1,783.4C743.5,783.0 747.0,775.8 747.6,775.5C748.2,775.2 754.9,776.9 755.5,777.7C756.0,778.6 758.5,791.2 758.9,792.4C759.2,793.6 761.8,801.5 762.2,801.4C762.7,801.4 767.4,792.3 767.9,791.3C768.4,790.3 772.1,782.5 772.4,781.1C772.7,779.8 774.4,764.6 774.7,764.2C774.9,763.7 777.8,771.1 778.0,772.1C778.3,773.1 780.0,784.7 780.3,784.5C780.6,784.3 783.2,769.4 783.7,768.7C784.1,768.0 788.8,771.1 789.3,771.0C789.8,770.9 793.4,766.2 793.8,766.5C794.3,766.7 797.9,775.5 798.3,776.6C798.8,777.7 802.4,789.2 802.9,789.0C803.3,788.8 807.0,773.7 807.4,772.1C807.8,770.5 810.4,757.9 810.8,757.4C811.1,757.0 813.9,761.9 814.1,763.1C814.4,764.2 816.1,779.1 816.4,780.0C816.7,780.9 819.3,781.3 819.8,781.1C820.2,780.9 824.9,775.6 825.4,775.5C826.0,775.4 830.5,779.0 831.1,778.9C831.6,778.7 836.3,772.4 836.7,772.1C837.2,771.8 839.8,772.4 840.1,773.2C840.4,774.1 843.1,788.8 843.5,789.0C843.8,789.2 846.6,777.7 846.9,776.6C847.1,775.5 848.8,765.8 849.1,766.5C849.5,767.1 853.2,788.5 853.6,789.0C854.1,789.6 857.7,779.0 858.1,777.7C858.6,776.5 862.2,765.1 862.7,764.2C863.1,763.3 866.7,759.6 867.2,759.7C867.7,759.7 872.1,765.0 872.8,765.3C873.5,765.6 879.9,764.9 880.7,765.3C881.5,765.7 888.0,773.4 888.6,773.2C889.2,773.0 892.8,761.8 893.1,760.8C893.5,759.9 895.0,753.4 895.4,754.0C895.7,754.7 899.5,773.9 899.9,774.4C900.3,774.8 902.9,763.1 903.3,763.1C903.7,763.1 907.3,774.4 907.8,774.4C908.2,774.4 911.9,763.9 912.3,763.1C912.7,762.3 915.2,758.7 915.7,758.6C916.1,758.4 920.8,759.2 921.3,759.7C921.9,760.1 926.4,767.5 927.0,767.6C927.5,767.7 932.0,762.1 932.6,761.9C933.2,761.8 938.6,765.4 939.4,765.3C940.2,765.3 947.6,760.7 948.4,760.8C949.2,760.9 954.6,767.5 955.2,767.6C955.7,767.7 959.2,763.7 959.7,763.1C960.1,762.4 963.7,755.4 964.2,755.2C964.7,754.9 969.2,758.4 969.8,758.6C970.4,758.7 976.0,757.9 976.6,758.6C977.2,759.2 981.7,771.9 982.2,772.1C982.8,772.3 987.4,763.2 987.9,763.1C988.4,763.0 991.9,769.7 992.4,769.8C992.8,770.0 996.5,766.4 996.9,765.3C997.4,764.3 1001.0,748.7 1001.4,748.4C1001.9,748.1 1005.5,758.0 1005.9,758.6C1006.4,759.1 1010.0,759.4 1010.4,759.7C1010.9,760.0 1014.4,764.1 1015.0,764.2C1015.5,764.3 1021.0,760.5 1021.7,760.8C1022.4,761.1 1027.8,769.8 1028.5,769.8C1029.2,769.8 1034.9,761.4 1035.3,760.8C1035.6,760.2 1035.5,758.4 1035.8,758.3C1036.0,758.3 1039.9,758.7 1040.3,759.5C1040.7,760.3 1043.3,773.8 1043.7,774.1C1044.1,774.5 1047.7,767.3 1048.2,766.2C1048.7,765.2 1053.2,753.6 1053.8,752.7C1054.5,751.9 1060.1,749.2 1060.6,749.3C1061.1,749.4 1063.7,754.1 1064.0,755.0C1064.3,755.9 1065.9,766.9 1066.3,767.4C1066.6,767.9 1070.3,766.2 1070.8,765.1C1071.2,764.0 1074.8,745.6 1075.3,745.9C1075.7,746.3 1079.3,771.0 1079.8,771.9C1080.2,772.8 1083.9,764.8 1084.3,764.0C1084.7,763.2 1087.2,756.0 1087.7,756.1C1088.1,756.2 1092.8,766.3 1093.3,766.2C1093.8,766.2 1097.3,755.2 1097.8,755.0C1098.4,754.7 1102.8,760.5 1103.5,760.6C1104.2,760.7 1111.9,758.0 1112.5,757.2C1113.1,756.4 1115.5,745.5 1115.9,744.8C1116.3,744.1 1119.9,743.3 1120.4,743.7C1120.9,744.0 1125.5,750.6 1126.0,751.6C1126.6,752.5 1130.0,762.5 1130.6,762.9C1131.1,763.2 1136.7,758.6 1137.3,758.3C1137.9,758.1 1142.4,758.1 1143.0,758.3C1143.5,758.6 1148.0,763.2 1148.6,762.9C1149.2,762.5 1153.7,752.0 1154.3,751.6C1154.8,751.1 1159.3,754.0 1159.9,753.8C1160.5,753.7 1166.1,748.4 1166.7,748.2C1167.2,748.0 1170.6,749.0 1171.2,749.3C1171.7,749.7 1177.3,754.9 1177.9,755.0C1178.6,755.0 1184.0,750.7 1184.7,750.5C1185.4,750.2 1190.9,749.7 1191.5,749.3C1192.0,749.0 1195.6,744.3 1196.0,743.7C1196.4,743.1 1199.0,736.3 1199.4,736.9C1199.8,737.5 1203.4,754.5 1203.9,755.0C1204.3,755.4 1207.9,746.4 1208.4,745.9C1208.9,745.4 1213.6,745.9 1214.0,744.8C1214.4,743.7 1216.0,725.6 1216.3,724.5C1216.6,723.4 1219.3,721.5 1219.7,722.2C1220.1,723.0 1223.8,739.1 1224.2,740.3C1224.6,741.5 1227.2,747.8 1227.6,747.1C1227.9,746.3 1230.5,726.5 1231.0,725.6C1231.4,724.8 1236.2,730.9 1236.6,730.1C1237.1,729.4 1239.7,711.0 1240.0,709.8C1240.3,708.7 1243.0,706.9 1243.4,707.6C1243.7,708.3 1246.3,722.8 1246.8,723.4C1247.3,724.0 1252.9,720.6 1253.5,720.0C1254.1,719.4 1258.7,713.1 1259.2,712.1C1259.7,711.1 1263.2,700.4 1263.7,699.7C1264.1,699.0 1267.7,698.6 1268.2,698.6C1268.7,698.6 1273.3,700.1 1273.8,699.7C1274.4,699.3 1279.0,691.3 1279.5,690.7C1280.0,690.0 1283.6,687.1 1284.0,686.1C1284.4,685.2 1286.9,672.0 1287.4,671.5C1287.8,671.0 1292.6,676.4 1293.0,676.0C1293.5,675.5 1296.0,663.9 1296.4,662.5C1296.8,661.0 1300.4,646.9 1300.9,646.7C1301.4,646.4 1306.0,656.8 1306.6,656.8C1307.1,656.8 1311.6,647.8 1312.2,646.7C1312.8,645.5 1318.5,634.6 1319.0,633.1C1319.5,631.7 1322.1,618.7 1322.3,617.3C1322.6,616.0 1324.2,607.1 1324.6,606.0C1325.0,605.0 1329.7,597.5 1330.2,597.0C1330.8,596.6 1334.4,596.8 1334.8,597.0C1335.2,597.2 1337.7,601.4 1338.1,601.5C1338.6,601.6 1343.3,599.2 1343.8,599.3C1344.2,599.4 1346.7,603.8 1347.2,603.8C1347.6,603.7 1352.2,598.1 1352.8,598.1C1353.4,598.2 1357.8,604.6 1358.4,604.9C1359.1,605.3 1364.7,604.2 1365.2,604.9C1365.7,605.7 1368.2,618.5 1368.6,619.6C1369.0,620.7 1372.6,626.4 1373.1,626.4C1373.6,626.4 1378.2,619.8 1378.8,619.6C1379.3,619.4 1384.0,620.6 1384.4,621.8C1384.8,623.1 1386.4,642.7 1386.7,644.4C1386.9,646.2 1389.6,656.9 1390.0,656.8C1390.4,656.8 1394.0,643.5 1394.5,643.3C1395.1,643.1 1400.7,651.5 1401.3,652.3C1401.9,653.1 1406.4,659.4 1407.0,660.2C1407.5,661.0 1412.1,667.7 1412.6,668.1C1413.1,668.5 1416.7,667.5 1417.1,668.1C1417.5,668.7 1420.0,679.7 1420.5,680.5C1420.9,681.4 1425.6,684.2 1426.1,685.0C1426.6,685.9 1430.1,697.3 1430.6,697.4C1431.2,697.6 1435.7,688.3 1436.3,688.4C1436.9,688.5 1441.4,697.9 1441.9,698.6C1442.4,699.2 1446.0,701.9 1446.4,701.9C1446.9,701.9 1450.6,698.0 1451.0,698.6C1451.3,699.1 1452.8,713.2 1453.2,713.2C1453.6,713.3 1458.3,700.5 1458.9,699.7C1459.4,698.8 1462.9,696.2 1463.4,696.3C1463.9,696.4 1468.4,701.5 1469.0,701.9C1469.6,702.4 1475.2,704.5 1475.8,705.3C1476.4,706.1 1480.9,716.7 1481.4,717.7C1481.9,718.8 1485.4,726.6 1485.9,726.8C1486.4,726.9 1491.1,720.0 1491.6,720.0C1492.0,719.9 1494.6,726.3 1495.0,725.6C1495.3,725.0 1499.0,708.5 1499.5,707.6C1499.9,706.6 1503.5,705.5 1504.0,706.5C1504.4,707.4 1508.0,725.7 1508.5,726.8C1509.0,727.8 1513.7,726.8 1514.1,726.8C1514.6,726.8 1516.5,726.5 1516.9,726.8C1517.3,727.0 1522.1,731.3 1522.6,731.3C1523.1,731.3 1526.6,726.5 1527.1,726.8C1527.6,727.0 1532.2,736.7 1532.7,736.9C1533.2,737.1 1536.8,731.0 1537.2,730.1C1537.6,729.2 1540.2,719.5 1540.6,718.9C1541.0,718.2 1544.6,716.6 1545.1,716.6C1545.6,716.7 1550.3,718.8 1550.8,720.0C1551.3,721.2 1554.8,741.3 1555.3,741.4C1555.8,741.6 1560.5,724.2 1560.9,723.4C1561.4,722.6 1563.9,724.8 1564.3,725.6C1564.7,726.5 1568.4,740.3 1568.8,740.3C1569.3,740.3 1572.9,726.3 1573.3,725.6C1573.7,725.0 1576.3,727.2 1576.7,727.9C1577.2,728.6 1581.8,740.4 1582.4,740.3C1582.9,740.2 1587.4,727.3 1588.0,726.8C1588.6,726.3 1593.9,729.7 1594.8,730.1C1595.6,730.6 1604.1,735.9 1604.9,735.8C1605.7,735.7 1610.1,727.9 1610.6,727.9C1611.1,727.9 1614.6,735.6 1615.1,735.8C1615.6,736.0 1620.0,731.6 1620.7,731.3C1621.4,730.9 1627.9,728.8 1628.6,729.0C1629.3,729.2 1633.7,734.6 1634.3,734.7C1634.8,734.7 1638.3,730.0 1638.8,730.1C1639.2,730.3 1642.8,737.9 1643.3,738.0C1643.7,738.2 1647.3,733.5 1647.8,733.5C1648.2,733.5 1651.8,738.2 1652.3,738.0C1652.8,737.9 1657.3,730.2 1657.9,730.1C1658.6,730.1 1664.2,737.1 1664.7,736.9C1665.2,736.7 1667.8,726.4 1668.1,725.6C1668.4,724.8 1671.0,720.9 1671.5,721.1C1671.9,721.3 1676.6,729.6 1677.1,730.1C1677.7,730.7 1682.0,731.9 1682.8,732.4C1683.5,732.9 1691.1,739.5 1691.8,739.2C1692.5,738.9 1697.0,727.5 1697.4,726.8C1697.9,726.0 1700.4,724.3 1700.8,724.5C1701.3,724.7 1705.9,731.1 1706.5,731.3C1707.0,731.4 1710.6,728.6 1711.0,727.9C1711.4,727.2 1714.0,717.3 1714.4,716.6C1714.7,715.9 1717.3,713.4 1717.7,714.4C1718.1,715.3 1721.8,733.5 1722.2,734.7C1722.7,735.8 1726.3,738.3 1726.8,738.0C1727.3,737.8 1731.9,730.8 1732.4,730.1C1732.9,729.5 1735.2,725.8 1735.8,725.6C1736.4,725.5 1744.0,726.1 1744.8,726.8C1745.7,727.4 1752.0,738.0 1752.7,738.0C1753.4,738.0 1757.8,726.9 1758.3,726.8C1758.9,726.6 1762.3,734.6 1762.9,734.7C1763.4,734.7 1769.0,728.3 1769.6,727.9C1770.3,727.4 1775.8,725.2 1776.4,725.6C1777.0,726.1 1781.5,736.3 1782.0,736.9C1782.5,737.5 1786.2,739.1 1786.6,738.0C1786.9,737.0 1789.5,717.8 1789.9,716.6C1790.4,715.4 1795.1,713.5 1795.6,713.2C1796.1,712.9 1799.7,710.2 1800.1,711.0C1800.5,711.7 1803.0,727.2 1803.5,727.9C1804.0,728.6 1809.5,724.4 1810.2,724.5C1811.0,724.6 1817.5,729.2 1818.1,729.0C1818.8,728.8 1823.3,721.9 1823.8,721.1C1824.2,720.3 1826.7,713.3 1827.2,713.2C1827.6,713.2 1832.1,719.5 1832.8,720.0C1833.5,720.5 1840.1,724.2 1840.7,723.4C1841.3,722.5 1844.8,704.2 1845.2,703.1C1845.7,701.9 1849.2,700.1 1849.7,700.8C1850.2,701.5 1854.9,717.1 1855.4,717.7C1855.9,718.4 1859.4,713.2 1859.9,713.2C1860.3,713.3 1863.9,719.3 1864.4,718.9C1864.8,718.5 1868.4,705.4 1868.9,705.3C1869.4,705.2 1874.0,716.1 1874.5,716.6C1875.1,717.1 1878.6,714.8 1879.1,715.5C1879.5,716.2 1883.1,730.1 1883.6,730.1C1884.0,730.1 1887.6,716.0 1888.1,715.5C1888.6,714.9 1893.1,718.4 1893.7,718.9C1894.4,719.3 1900.9,724.4 1901.6,724.5C1902.4,724.6 1907.8,720.2 1908.4,720.0C1909.0,719.8 1913.5,721.6 1914.0,721.1C1914.5,720.6 1918.0,710.3 1918.5,709.8C1919.1,709.3 1923.6,710.8 1924.2,711.0C1924.8,711.1 1929.3,712.7 1929.8,713.2C1930.3,713.8 1933.8,722.0 1934.3,722.2C1934.8,722.5 1939.5,719.7 1940.0,718.9C1940.4,718.1 1943.0,706.6 1943.4,706.5C1943.8,706.3 1947.4,715.4 1947.9,715.5C1948.3,715.5 1952.0,708.4 1952.4,707.6C1952.8,706.7 1955.3,698.3 1955.8,698.6C1956.2,698.8 1960.9,713.1 1961.4,713.2C1961.9,713.3 1965.5,701.3 1965.9,700.8C1966.4,700.3 1970.0,702.3 1970.4,703.1C1970.9,703.9 1974.4,716.0 1975.0,716.6C1975.5,717.2 1980.1,715.2 1980.6,715.5C1981.1,715.8 1984.7,722.9 1985.1,722.2C1985.5,721.6 1988.2,704.1 1988.5,703.1C1988.8,702.0 1991.5,700.8 1991.9,700.8C1992.3,700.9 1996.0,703.7 1996.4,704.2C1996.7,704.7 1998.4,710.3 1998.8,710.3C1999.2,710.3 2003.9,704.8 2004.5,704.6C2005.1,704.3 2009.8,704.9 2010.2,704.6C2010.6,704.2 2012.0,697.8 2012.4,698.1C2012.7,698.4 2016.3,710.4 2016.6,710.3C2017.0,710.2 2019.3,697.4 2019.5,696.0C2019.8,694.5 2021.4,682.3 2021.7,681.7C2021.9,681.0 2024.2,682.4 2024.5,683.1C2024.9,683.8 2028.3,694.7 2028.8,695.3C2029.3,695.8 2034.7,693.6 2035.3,693.8C2035.8,694.0 2039.1,698.3 2039.5,698.8C2040.0,699.3 2043.4,704.1 2043.8,703.8C2044.2,703.6 2047.1,694.0 2047.4,693.1C2047.7,692.2 2049.3,685.4 2049.6,685.2C2049.8,685.1 2052.6,689.3 2053.1,689.5C2053.7,689.7 2059.6,688.4 2060.3,688.8C2061.0,689.2 2066.9,697.3 2067.5,697.4C2068.0,697.5 2071.3,692.5 2071.7,691.7C2072.2,690.9 2075.7,681.3 2076.0,680.9C2076.4,680.6 2078.6,683.7 2078.9,684.5C2079.2,685.4 2081.4,697.6 2081.8,698.1C2082.1,698.6 2085.0,695.7 2085.3,694.5C2085.7,693.4 2087.9,675.7 2088.2,674.5C2088.5,673.3 2090.8,669.7 2091.1,670.2C2091.3,670.7 2093.0,682.9 2093.2,684.5C2093.5,686.1 2095.8,701.9 2096.1,702.4C2096.4,702.9 2098.7,695.5 2098.9,694.5C2099.2,693.6 2100.7,683.7 2101.1,683.1C2101.4,682.5 2105.7,682.2 2106.1,682.4C2106.5,682.5 2109.3,686.3 2109.7,685.9C2110.0,685.6 2112.8,675.1 2113.3,674.5C2113.7,673.9 2117.8,674.0 2118.3,673.8C2118.8,673.5 2122.8,669.5 2123.3,669.5C2123.7,669.5 2127.1,672.6 2127.6,673.1C2128.0,673.5 2131.4,678.1 2131.9,678.1C2132.3,678.1 2136.4,673.2 2136.9,673.1C2137.4,672.9 2141.3,675.0 2141.9,675.2C2142.4,675.4 2147.7,677.3 2148.0,677.4"/>
<path class="curve" stroke="#FF0000" stroke-width="8.6" d="M67.5,1177.3C67.6,1176.9 70.9,1170.6 71.3,1169.4C71.7,1168.3 75.4,1155.8 75.8,1154.8C76.2,1153.7 78.8,1148.4 79.2,1148.0C79.6,1147.5 83.3,1146.0 83.7,1145.7C84.1,1145.5 86.7,1143.1 87.1,1143.5C87.4,1143.8 90.2,1151.8 90.5,1152.5C90.7,1153.2 92.4,1157.9 92.7,1158.1C93.1,1158.4 96.8,1157.0 97.2,1157.0C97.7,1157.1 101.3,1159.8 101.7,1159.3C102.1,1158.8 104.8,1147.0 105.1,1146.9C105.5,1146.7 108.2,1154.8 108.5,1155.9C108.8,1157.0 110.4,1169.4 110.8,1169.4C111.1,1169.5 114.8,1157.7 115.3,1157.0C115.7,1156.3 119.3,1156.1 119.8,1155.9C120.2,1155.7 123.9,1153.5 124.3,1153.6C124.8,1153.7 128.4,1158.0 128.8,1158.1C129.2,1158.3 131.8,1157.6 132.2,1157.0C132.6,1156.4 136.3,1146.4 136.7,1145.7C137.1,1145.1 139.6,1143.1 140.1,1143.5C140.6,1143.8 146.2,1152.1 146.9,1152.5C147.5,1152.9 153.1,1151.0 153.6,1151.4C154.2,1151.8 157.7,1159.9 158.1,1160.4C158.6,1160.8 162.2,1160.7 162.7,1160.4C163.1,1160.1 166.7,1155.0 167.2,1154.8C167.6,1154.5 171.3,1154.2 171.7,1154.8C172.1,1155.3 174.7,1165.1 175.1,1164.9C175.5,1164.7 179.2,1151.0 179.6,1150.2C180.0,1149.5 182.5,1149.0 183.0,1149.1C183.4,1149.2 188.0,1152.6 188.6,1152.5C189.2,1152.4 193.7,1148.4 194.3,1148.0C194.8,1147.6 198.1,1144.4 198.8,1144.6C199.4,1144.8 205.9,1151.3 206.7,1151.4C207.4,1151.4 212.8,1145.8 213.4,1145.7C214.1,1145.7 218.6,1150.1 219.1,1150.2C219.5,1150.4 222.1,1148.7 222.5,1148.0C222.8,1147.3 225.5,1137.1 225.8,1136.7C226.2,1136.3 228.9,1139.0 229.2,1140.1C229.6,1141.2 232.3,1156.9 232.6,1158.1C232.9,1159.4 235.7,1165.8 236.0,1164.9C236.3,1164.1 239.0,1142.5 239.4,1141.2C239.7,1139.9 242.4,1138.8 242.8,1139.0C243.1,1139.1 245.8,1144.3 246.1,1144.6C246.5,1144.9 250.2,1145.3 250.7,1145.7C251.1,1146.1 254.7,1152.3 255.2,1152.5C255.6,1152.7 259.3,1150.1 259.7,1150.2C260.1,1150.4 262.7,1156.3 263.1,1155.9C263.4,1155.5 266.1,1143.1 266.5,1142.3C266.8,1141.6 269.5,1139.9 269.8,1140.1C270.2,1140.3 272.9,1146.1 273.2,1145.7C273.6,1145.4 276.3,1133.7 276.6,1133.3C276.9,1132.9 279.7,1137.3 280.0,1137.8C280.3,1138.4 281.9,1144.8 282.2,1144.6C282.6,1144.4 286.3,1134.5 286.8,1133.3C287.2,1132.1 290.8,1121.6 291.3,1120.9C291.8,1120.2 296.4,1120.0 296.9,1119.8C297.4,1119.6 300.9,1116.6 301.4,1116.4C301.9,1116.2 306.6,1115.6 307.1,1115.3C307.5,1114.9 310.1,1110.6 310.5,1109.6C310.8,1108.7 313.4,1097.1 313.8,1096.1C314.2,1095.1 317.8,1089.9 318.3,1089.3C318.9,1088.7 323.6,1084.8 324.0,1083.7C324.4,1082.6 326.0,1069.2 326.2,1067.9C326.5,1066.5 329.1,1057.2 329.6,1056.6C330.1,1056.0 335.8,1056.0 336.4,1055.5C337.0,1054.9 340.5,1046.5 340.9,1045.3C341.4,1044.1 344.9,1032.7 345.4,1031.8C345.9,1030.9 350.7,1028.1 351.1,1027.3C351.5,1026.5 353.1,1017.3 353.3,1016.0C353.5,1014.7 355.3,1002.5 355.6,1001.3C355.9,1000.2 358.5,993.9 359.0,993.4C359.5,992.9 365.3,992.0 365.7,991.2C366.1,990.4 366.7,979.3 366.9,977.6C367.0,975.9 368.8,959.6 369.1,957.3C369.4,955.1 372.0,934.1 372.5,932.5C373.0,930.9 377.7,926.9 378.1,925.7C378.5,924.6 380.2,911.5 380.4,909.9C380.6,908.4 382.3,894.8 382.7,894.2C383.0,893.5 387.9,897.2 388.3,896.4C388.7,895.6 390.4,880.3 390.6,878.4C390.7,876.4 391.4,859.4 391.7,858.1C392.0,856.7 395.7,851.6 396.2,851.3C396.7,850.9 401.4,851.6 401.8,851.3C402.3,851.0 404.8,845.7 405.0,844.8C405.3,844.0 407.1,834.7 407.3,833.5C407.5,832.4 408.8,823.0 409.0,822.2C409.2,821.4 410.3,817.9 410.7,817.7C411.1,817.5 416.4,818.0 416.9,817.7C417.4,817.4 420.1,811.8 420.3,810.9C420.5,810.0 421.3,800.6 421.4,799.6C421.6,798.6 422.4,791.8 422.6,791.7C422.8,791.5 425.6,795.8 426.0,796.2C426.4,796.6 430.0,799.0 430.5,799.0C431.0,799.0 435.6,796.5 436.2,796.2C436.7,795.9 440.8,793.3 441.2,792.8C441.7,792.4 444.3,787.6 444.6,787.1C445.0,786.7 447.7,783.2 448.0,783.2C448.4,783.2 451.1,786.5 451.4,787.1C451.7,787.8 454.0,795.5 454.3,796.2C454.5,796.9 456.3,801.7 456.5,801.9C456.8,802.0 459.1,798.8 459.3,798.5C459.6,798.1 461.4,794.6 461.6,794.5C461.9,794.4 464.1,795.7 464.4,796.2C464.7,796.7 467.5,804.4 467.8,805.2C468.1,806.1 469.8,812.4 470.1,813.2C470.3,814.0 472.6,820.4 472.9,821.1C473.2,821.8 475.5,826.2 475.7,826.7C476.0,827.3 478.3,831.8 478.6,832.4C478.8,833.0 480.6,838.3 480.8,839.2C481.0,840.0 482.4,848.3 482.5,849.4C482.7,850.4 483.9,859.3 484.2,860.3C484.5,861.3 488.2,868.1 488.7,869.3C489.2,870.5 492.7,883.4 493.2,884.0C493.7,884.6 498.4,881.2 498.9,881.7C499.3,882.2 501.8,893.1 502.2,894.2C502.7,895.2 507.4,902.0 507.9,903.2C508.3,904.3 510.9,915.2 511.3,916.7C511.6,918.2 514.3,931.5 514.6,932.5C515.0,933.5 517.7,937.0 518.0,937.0C518.4,937.0 521.1,932.1 521.4,932.5C521.8,933.0 524.4,945.0 524.8,946.0C525.3,947.1 529.9,951.9 530.4,952.8C530.9,953.7 534.4,963.1 535.0,964.1C535.5,965.1 539.9,972.3 540.6,973.1C541.3,974.0 547.9,979.8 548.5,981.0C549.1,982.3 551.5,996.6 551.9,997.9C552.2,999.3 555.0,1007.6 555.3,1008.1C555.5,1008.6 556.7,1007.4 556.9,1007.2C557.2,1007.0 559.9,1003.4 560.3,1003.8C560.7,1004.2 564.4,1014.2 564.8,1015.1C565.3,1016.0 568.9,1020.8 569.3,1021.8C569.7,1022.9 572.4,1036.5 572.7,1036.5C573.1,1036.5 575.8,1022.6 576.1,1021.8C576.4,1021.1 578.1,1019.8 578.4,1020.7C578.6,1021.6 581.4,1038.0 581.7,1039.9C582.1,1041.8 584.7,1057.4 585.1,1057.9C585.6,1058.4 590.2,1050.0 590.8,1050.0C591.3,1050.0 595.9,1057.5 596.4,1057.9C596.9,1058.4 600.5,1059.2 600.9,1059.1C601.4,1059.0 605.0,1055.7 605.4,1055.7C605.9,1055.6 609.4,1057.5 609.9,1057.9C610.5,1058.3 615.0,1063.2 615.6,1063.6C616.2,1064.0 620.6,1065.4 621.2,1065.8C621.8,1066.3 627.4,1071.9 628.0,1072.6C628.6,1073.3 633.0,1079.8 633.6,1080.5C634.3,1081.2 640.9,1087.0 641.5,1087.3C642.2,1087.6 646.7,1086.0 647.2,1086.1C647.7,1086.3 651.3,1089.2 651.7,1089.5C652.1,1089.9 654.7,1093.5 655.1,1092.9C655.4,1092.4 658.2,1079.1 658.5,1078.2C658.7,1077.4 660.4,1075.1 660.7,1076.0C661.0,1076.9 663.6,1096.2 664.1,1096.3C664.5,1096.4 669.3,1077.9 669.7,1077.1C670.1,1076.3 671.7,1080.0 672.0,1080.5C672.3,1081.0 674.9,1086.9 675.4,1087.3C675.8,1087.6 680.5,1087.3 681.0,1087.3C681.5,1087.2 685.0,1085.9 685.5,1086.1C686.0,1086.4 690.6,1090.9 691.2,1091.8C691.7,1092.6 696.3,1103.0 696.8,1103.1C697.3,1103.1 700.8,1094.0 701.3,1092.9C701.8,1091.8 706.5,1081.7 707.0,1080.5C707.4,1079.3 710.0,1069.3 710.4,1069.2C710.7,1069.1 713.2,1077.6 713.7,1078.2C714.2,1078.9 719.9,1081.1 720.5,1081.6C721.1,1082.1 724.6,1087.4 725.0,1088.4C725.4,1089.4 728.1,1100.6 728.4,1100.8C728.7,1101.0 731.5,1092.7 731.8,1091.8C732.1,1090.8 733.7,1082.3 734.0,1081.6C734.4,1081.0 738.1,1079.5 738.6,1079.4C739.0,1079.2 742.6,1078.5 743.1,1078.2C743.5,1078.0 747.1,1074.4 747.6,1074.9C748.0,1075.3 751.6,1087.2 752.1,1087.3C752.5,1087.4 756.2,1077.7 756.6,1077.1C757.1,1076.5 760.6,1074.6 761.1,1074.9C761.6,1075.1 766.3,1082.5 766.8,1082.8C767.3,1083.0 770.9,1081.0 771.3,1080.5C771.7,1080.0 774.3,1072.6 774.7,1072.6C775.1,1072.7 778.7,1081.8 779.2,1081.6C779.6,1081.5 783.2,1069.5 783.7,1069.2C784.1,1068.9 787.7,1076.3 788.2,1076.0C788.7,1075.7 793.3,1064.1 793.8,1063.6C794.3,1063.0 797.9,1064.1 798.3,1064.7C798.8,1065.3 802.4,1074.5 802.9,1074.9C803.3,1075.2 806.9,1072.3 807.4,1071.5C807.8,1070.7 811.4,1059.8 811.9,1059.1C812.3,1058.3 815.9,1056.1 816.4,1056.8C816.9,1057.5 820.4,1072.8 820.9,1072.6C821.4,1072.4 826.0,1052.4 826.6,1052.3C827.1,1052.2 830.6,1070.7 831.1,1071.5C831.5,1072.3 835.1,1068.8 835.6,1068.1C836.1,1067.4 840.6,1058.8 841.2,1057.9C841.8,1057.0 847.4,1050.0 848.0,1050.0C848.6,1050.1 853.1,1059.3 853.6,1059.1C854.1,1058.8 857.6,1045.4 858.1,1045.5C858.6,1045.7 863.3,1061.9 863.8,1062.5C864.3,1063.0 867.8,1056.4 868.3,1055.7C868.7,1055.0 872.3,1048.0 872.8,1047.8C873.3,1047.6 877.8,1052.0 878.4,1052.3C879.1,1052.6 885.7,1053.5 886.3,1053.4C887.0,1053.4 890.4,1050.4 890.9,1051.2C891.3,1051.9 895.0,1068.6 895.4,1068.1C895.8,1067.6 898.4,1042.5 898.8,1041.0C899.1,1039.5 901.7,1037.3 902.1,1037.6C902.6,1038.0 907.2,1047.4 907.8,1047.8C908.3,1048.2 912.9,1045.4 913.4,1045.5C914.0,1045.7 918.5,1051.0 919.1,1051.2C919.6,1051.3 924.1,1049.0 924.7,1048.9C925.3,1048.8 930.7,1048.7 931.5,1048.9C932.2,1049.1 938.6,1052.2 939.4,1052.3C940.1,1052.4 945.6,1051.3 946.1,1051.2C946.7,1051.1 950.2,1049.7 950.6,1050.0C951.1,1050.4 954.7,1057.9 955.2,1057.9C955.6,1058.0 959.2,1052.0 959.7,1051.2C960.1,1050.3 963.7,1041.4 964.2,1041.0C964.7,1040.7 969.3,1044.2 969.8,1044.4C970.4,1044.6 974.9,1044.2 975.5,1044.4C976.0,1044.6 980.5,1049.0 981.1,1048.9C981.7,1048.9 986.2,1043.0 986.8,1043.3C987.3,1043.6 991.9,1053.7 992.4,1054.6C992.9,1055.4 996.5,1059.4 996.9,1060.2C997.4,1061.0 1001.0,1070.7 1001.4,1070.4C1001.9,1070.0 1005.5,1054.7 1005.9,1053.4C1006.4,1052.1 1010.0,1044.5 1010.4,1044.4C1010.9,1044.3 1014.5,1049.8 1015.0,1051.2C1015.4,1052.6 1019.0,1072.4 1019.5,1072.6C1019.9,1072.8 1023.5,1056.6 1024.0,1055.7C1024.4,1054.7 1028.0,1053.4 1028.5,1053.4C1029.0,1053.4 1033.8,1055.7 1034.1,1055.7C1034.5,1055.7 1035.5,1052.6 1035.8,1053.2C1036.0,1053.9 1038.8,1069.0 1039.2,1069.0C1039.6,1069.1 1043.2,1054.7 1043.7,1054.4C1044.1,1054.0 1047.8,1062.1 1048.2,1062.2C1048.7,1062.4 1052.2,1057.8 1052.7,1057.7C1053.2,1057.7 1057.7,1060.7 1058.4,1061.1C1059.0,1061.5 1064.4,1065.8 1065.1,1065.6C1065.9,1065.5 1072.5,1058.0 1073.0,1057.7C1073.6,1057.5 1076.1,1060.4 1076.4,1061.1C1076.7,1061.9 1079.3,1071.7 1079.8,1072.4C1080.2,1073.1 1084.9,1074.8 1085.4,1074.7C1086.0,1074.5 1090.6,1070.0 1091.1,1069.0C1091.5,1068.1 1094.0,1056.2 1094.5,1055.5C1094.9,1054.7 1099.5,1054.0 1100.1,1054.4C1100.7,1054.7 1106.2,1062.3 1106.9,1063.4C1107.5,1064.4 1111.9,1075.8 1112.5,1075.8C1113.1,1075.8 1117.6,1064.1 1118.1,1063.4C1118.7,1062.7 1123.2,1061.6 1123.8,1062.2C1124.4,1062.9 1129.0,1076.0 1129.4,1075.8C1129.9,1075.6 1132.5,1060.0 1132.8,1058.9C1133.2,1057.7 1135.8,1051.3 1136.2,1052.1C1136.6,1052.9 1140.2,1074.0 1140.7,1074.7C1141.2,1075.3 1145.8,1065.7 1146.4,1065.6C1146.9,1065.5 1151.5,1072.9 1152.0,1072.4C1152.5,1071.9 1156.2,1057.9 1156.5,1056.6C1156.8,1055.3 1158.4,1045.7 1158.8,1046.5C1159.1,1047.2 1162.8,1070.9 1163.3,1071.3C1163.7,1071.6 1167.3,1054.2 1167.8,1053.2C1168.2,1052.3 1171.8,1052.0 1172.3,1052.1C1172.8,1052.2 1177.3,1055.6 1177.9,1055.5C1178.6,1055.3 1185.2,1048.7 1185.8,1048.7C1186.5,1048.7 1189.9,1054.8 1190.4,1055.5C1190.8,1056.2 1194.2,1062.3 1194.9,1062.2C1195.5,1062.2 1202.2,1054.7 1202.8,1054.4C1203.3,1054.0 1205.8,1054.9 1206.1,1055.5C1206.5,1056.1 1209.1,1066.4 1209.5,1066.8C1209.9,1067.1 1213.5,1062.7 1214.0,1062.2C1214.6,1061.8 1219.2,1058.7 1219.7,1057.7C1220.1,1056.8 1222.7,1044.7 1223.1,1043.1C1223.4,1041.4 1226.1,1025.5 1226.5,1025.0C1226.8,1024.6 1230.5,1033.9 1231.0,1034.0C1231.5,1034.2 1236.0,1028.1 1236.6,1028.4C1237.2,1028.7 1241.6,1040.6 1242.2,1040.8C1242.9,1041.0 1248.3,1032.4 1249.0,1031.8C1249.7,1031.2 1255.2,1030.4 1255.8,1029.5C1256.3,1028.6 1259.9,1015.4 1260.3,1013.7C1260.7,1012.1 1263.2,997.2 1263.7,996.8C1264.1,996.5 1268.8,1007.6 1269.3,1007.0C1269.8,1006.3 1273.4,984.9 1273.8,984.4C1274.3,984.0 1277.9,997.1 1278.3,997.9C1278.8,998.8 1282.4,1002.2 1282.9,1001.3C1283.3,1000.4 1286.9,981.5 1287.4,979.9C1287.8,978.3 1291.4,970.6 1291.9,969.7C1292.4,968.9 1297.0,964.0 1297.5,963.0C1298.0,961.9 1301.6,949.7 1302.0,948.3C1302.5,946.9 1306.1,936.6 1306.6,935.9C1307.0,935.2 1310.6,933.5 1311.1,933.6C1311.5,933.8 1315.1,939.4 1315.6,939.3C1316.0,939.1 1319.6,930.6 1320.1,930.3C1320.6,929.9 1325.3,933.4 1325.7,932.5C1326.2,931.6 1328.7,913.8 1329.1,912.2C1329.5,910.6 1333.2,901.7 1333.6,900.9C1334.1,900.2 1337.7,897.3 1338.1,897.5C1338.6,897.8 1342.1,905.0 1342.7,905.4C1343.2,905.9 1347.8,907.2 1348.3,906.6C1348.8,905.9 1352.4,893.0 1352.8,891.9C1353.2,890.8 1355.8,885.0 1356.2,885.1C1356.6,885.2 1360.3,892.8 1360.7,894.2C1361.2,895.5 1364.8,912.1 1365.2,912.2C1365.7,912.3 1369.3,895.7 1369.7,895.3C1370.2,894.8 1373.7,902.8 1374.2,903.2C1374.7,903.5 1379.3,901.7 1379.9,902.0C1380.4,902.4 1385.0,909.8 1385.5,909.9C1386.1,910.1 1390.7,905.7 1391.2,905.4C1391.7,905.2 1395.2,903.9 1395.7,904.3C1396.2,904.8 1400.8,913.4 1401.3,914.5C1401.8,915.5 1405.2,923.8 1405.8,924.6C1406.5,925.4 1412.9,930.1 1413.7,930.3C1414.5,930.4 1420.9,927.4 1421.6,928.0C1422.3,928.6 1426.6,940.4 1427.3,941.5C1427.9,942.7 1433.4,949.3 1434.0,950.6C1434.7,951.9 1439.2,968.0 1439.7,967.5C1440.2,967.0 1443.8,941.5 1444.2,940.4C1444.6,939.3 1447.2,944.5 1447.6,946.0C1447.9,947.6 1450.6,969.3 1451.0,970.9C1451.4,972.4 1455.0,976.6 1455.5,976.5C1456.0,976.5 1460.6,970.0 1461.1,969.7C1461.6,969.5 1465.2,970.1 1465.6,970.9C1466.0,971.6 1468.7,982.7 1469.0,984.4C1469.3,986.2 1472.0,1006.1 1472.4,1005.8C1472.8,1005.6 1476.5,981.4 1476.9,979.9C1477.4,978.4 1481.0,974.6 1481.4,975.4C1481.9,976.2 1485.5,993.9 1485.9,995.7C1486.4,997.5 1490.0,1010.9 1490.4,1011.5C1490.9,1012.0 1494.5,1007.7 1495.0,1007.0C1495.4,1006.2 1499.0,997.2 1499.5,996.8C1499.9,996.4 1503.2,998.4 1504.0,999.1C1504.7,999.7 1513.3,1010.2 1514.1,1010.4C1514.9,1010.5 1519.8,1002.8 1520.3,1002.5C1520.8,1002.1 1524.3,1002.8 1524.8,1003.6C1525.4,1004.3 1531.0,1016.7 1531.6,1017.1C1532.2,1017.5 1536.7,1011.6 1537.2,1011.5C1537.7,1011.3 1541.3,1013.1 1541.7,1013.7C1542.2,1014.4 1545.8,1025.0 1546.3,1025.0C1546.7,1025.0 1550.3,1014.1 1550.8,1013.7C1551.2,1013.3 1554.6,1016.0 1555.3,1017.1C1556.0,1018.2 1563.6,1035.1 1564.3,1035.2C1565.0,1035.2 1569.4,1019.2 1569.9,1018.2C1570.5,1017.3 1574.1,1016.3 1574.5,1016.0C1574.9,1015.7 1577.4,1010.7 1577.8,1011.5C1578.3,1012.3 1582.9,1031.2 1583.5,1031.8C1584.1,1032.4 1589.6,1022.6 1590.3,1022.8C1590.9,1022.9 1596.4,1033.9 1597.0,1034.0C1597.6,1034.2 1602.0,1026.6 1602.7,1026.1C1603.3,1025.7 1609.9,1024.4 1610.6,1025.0C1611.2,1025.6 1615.6,1038.0 1616.2,1038.6C1616.8,1039.1 1621.3,1037.1 1621.8,1036.3C1622.3,1035.5 1626.0,1024.0 1626.4,1022.8C1626.7,1021.5 1629.3,1011.1 1629.7,1011.5C1630.2,1011.8 1634.5,1029.1 1635.4,1029.5C1636.2,1029.9 1645.8,1018.8 1646.7,1019.4C1647.5,1019.9 1651.7,1040.5 1652.3,1040.8C1652.9,1041.2 1657.4,1027.0 1657.9,1026.1C1658.5,1025.3 1663.0,1024.4 1663.6,1023.9C1664.1,1023.4 1668.6,1015.9 1669.2,1016.0C1669.8,1016.0 1675.4,1024.5 1676.0,1025.0C1676.6,1025.5 1681.0,1025.2 1681.6,1026.1C1682.3,1027.1 1687.9,1044.1 1688.4,1044.2C1688.9,1044.3 1691.5,1029.2 1691.8,1027.3C1692.1,1025.4 1693.7,1006.9 1694.0,1005.8C1694.4,1004.8 1698.0,1005.8 1698.6,1007.0C1699.1,1008.1 1703.5,1027.8 1704.2,1028.4C1704.9,1029.0 1711.5,1018.4 1712.1,1018.2C1712.7,1018.1 1716.2,1026.7 1716.6,1026.1C1717.1,1025.6 1720.6,1007.7 1721.1,1007.0C1721.7,1006.2 1727.1,1011.5 1727.9,1011.5C1728.7,1011.4 1736.1,1006.7 1736.9,1005.8C1737.7,1004.9 1743.1,993.3 1743.7,993.4C1744.3,993.5 1748.7,1007.6 1749.3,1008.1C1749.9,1008.5 1755.4,1002.8 1756.1,1002.5C1756.8,1002.1 1762.2,1001.0 1762.9,1001.3C1763.5,1001.6 1767.9,1008.2 1768.5,1008.1C1769.1,1008.0 1773.6,999.5 1774.1,999.1C1774.7,998.6 1779.2,998.2 1779.8,999.1C1780.4,999.9 1785.9,1015.7 1786.6,1016.0C1787.2,1016.3 1792.6,1007.1 1793.3,1005.8C1794.1,1004.5 1800.4,990.2 1801.2,990.0C1802.0,989.9 1808.4,1003.8 1809.1,1003.6C1809.8,1003.4 1815.3,987.3 1815.9,986.7C1816.4,986.0 1819.8,990.2 1820.4,991.2C1821.0,992.1 1826.5,1005.7 1827.2,1005.8C1827.8,1006.0 1833.3,993.7 1833.9,993.4C1834.6,993.2 1840.1,1000.9 1840.7,1001.3C1841.3,1001.7 1845.8,1000.5 1846.3,1001.3C1846.9,1002.1 1850.3,1016.7 1850.9,1017.1C1851.4,1017.5 1855.9,1010.4 1856.5,1009.2C1857.1,1008.0 1862.6,994.3 1863.3,993.4C1863.9,992.5 1868.4,990.5 1868.9,991.2C1869.4,991.9 1872.9,1006.6 1873.4,1007.0C1873.9,1007.4 1878.4,999.4 1879.1,999.1C1879.7,998.8 1885.2,1001.4 1885.8,1001.3C1886.5,1001.2 1890.9,996.2 1891.5,996.8C1892.0,997.4 1896.5,1013.3 1897.1,1013.7C1897.7,1014.2 1903.2,1006.1 1903.9,1005.8C1904.6,1005.6 1910.0,1008.7 1910.6,1008.1C1911.3,1007.5 1916.7,995.7 1917.4,994.6C1918.1,993.4 1923.5,985.3 1924.2,985.5C1924.9,985.8 1930.3,997.9 1931.0,999.1C1931.6,1000.2 1937.1,1008.5 1937.7,1008.1C1938.3,1007.7 1942.6,991.2 1943.4,991.2C1944.1,991.1 1951.7,1006.9 1952.4,1007.0C1953.1,1007.1 1957.4,993.2 1958.0,993.4C1958.7,993.7 1965.3,1011.0 1965.9,1011.5C1966.6,1011.9 1971.0,1003.0 1971.6,1002.5C1972.1,1001.9 1976.8,1002.3 1977.2,1001.3C1977.6,1000.4 1979.2,984.1 1979.5,983.3C1979.7,982.4 1982.4,983.6 1982.9,984.4C1983.3,985.2 1987.9,998.3 1988.5,999.1C1989.1,999.8 1993.6,999.3 1994.1,999.1C1994.6,998.8 1998.3,994.0 1998.8,993.8C1999.2,993.7 2002.6,995.7 2003.0,996.0C2003.5,996.3 2007.0,1000.2 2007.3,1000.3C2007.7,1000.4 2010.0,998.3 2010.2,997.4C2010.4,996.6 2011.4,983.9 2011.6,983.1C2011.9,982.3 2014.9,981.5 2015.2,981.7C2015.5,981.9 2017.8,986.3 2018.1,987.4C2018.4,988.5 2020.7,1002.3 2020.9,1003.9C2021.2,1005.4 2022.2,1018.7 2022.4,1018.9C2022.5,1019.1 2024.3,1008.7 2024.5,1007.4C2024.8,1006.1 2027.1,994.0 2027.4,993.1C2027.7,992.3 2029.8,990.3 2030.2,990.3C2030.6,990.3 2034.8,993.4 2035.3,993.1C2035.7,992.8 2038.5,985.1 2038.8,984.5C2039.2,984.0 2041.3,981.5 2041.7,981.7C2042.0,981.9 2045.6,987.1 2046.0,988.1C2046.4,989.1 2049.2,1000.9 2049.6,1001.0C2050.0,1001.1 2053.3,990.9 2053.9,990.3C2054.4,989.6 2060.5,988.5 2061.0,988.1C2061.6,987.7 2064.3,982.4 2064.6,981.7C2064.8,980.9 2065.8,973.6 2066.0,973.1C2066.2,972.6 2068.5,971.2 2068.9,971.7C2069.2,972.1 2072.8,982.2 2073.2,982.4C2073.6,982.6 2076.4,975.7 2076.8,975.2C2077.1,974.8 2079.3,973.0 2079.6,973.1C2079.9,973.2 2082.8,977.0 2083.2,977.4C2083.6,977.8 2086.3,981.8 2086.8,981.7C2087.2,981.5 2091.4,975.1 2091.8,974.5C2092.2,973.9 2095.0,970.5 2095.4,970.2C2095.8,969.9 2099.2,968.6 2099.7,968.8C2100.1,969.0 2104.2,974.4 2104.7,974.5C2105.2,974.7 2109.2,971.8 2109.7,971.7C2110.1,971.5 2113.5,971.9 2114.0,971.7C2114.4,971.4 2117.8,966.3 2118.3,965.9C2118.7,965.5 2122.2,963.7 2122.6,963.8C2122.9,963.8 2125.8,966.1 2126.1,966.6C2126.5,967.2 2129.4,973.9 2129.7,974.5C2130.1,975.1 2132.9,978.2 2133.3,978.1C2133.7,978.0 2137.2,973.0 2137.6,972.4C2138.0,971.7 2141.5,965.3 2141.9,964.5C2142.3,963.7 2145.1,956.5 2145.5,955.9C2145.8,955.3 2147.9,953.2 2148.0,953.0"/>
</g>
<line class="dot" x1="429.6" y1="495.05" x2="424.0" y2="1335.8"/>
<line class="dot" x1="1345.2" y1="618.1" x2="1341.6" y2="1313.0"/>
<line class="dot" x1="1414.0" y1="287.0" x2="1414.2" y2="1333.0"/>
<g clip-path="url(#plot)"><path class="curve" stroke="#00B050" stroke-width="8.6" d="M67.5,1306.9C67.7,1307.1 71.9,1312.0 72.4,1312.5C72.9,1313.0 77.5,1316.1 78.1,1315.9C78.6,1315.7 83.2,1308.2 83.7,1308.0C84.2,1307.8 87.6,1312.3 88.2,1312.5C88.8,1312.7 95.4,1312.8 96.1,1312.5C96.8,1312.2 101.2,1306.1 101.7,1305.7C102.3,1305.4 106.9,1305.9 107.4,1305.7C107.9,1305.6 111.3,1302.1 111.9,1302.3C112.5,1302.6 118.0,1309.8 118.7,1310.2C119.3,1310.7 124.8,1311.0 125.4,1311.4C126.1,1311.7 130.6,1316.8 131.1,1317.0C131.6,1317.2 135.0,1316.1 135.6,1315.9C136.2,1315.7 141.8,1314.2 142.4,1313.6C142.9,1313.0 146.5,1304.0 146.9,1303.5C147.3,1302.9 149.9,1302.2 150.3,1302.3C150.6,1302.5 153.2,1306.6 153.6,1306.9C154.0,1307.1 157.7,1307.5 158.1,1308.0C158.6,1308.4 162.2,1316.1 162.7,1315.9C163.1,1315.7 166.8,1304.9 167.2,1303.5C167.6,1302.0 170.2,1287.3 170.6,1286.6C170.9,1285.8 173.5,1286.7 173.9,1287.7C174.3,1288.6 177.9,1303.9 178.5,1305.7C179.0,1307.5 183.6,1323.8 184.1,1323.8C184.6,1323.8 188.1,1306.6 188.6,1305.7C189.1,1304.8 193.7,1305.6 194.3,1305.7C194.8,1305.8 199.3,1308.0 199.9,1308.0C200.5,1308.0 206.0,1305.8 206.7,1305.7C207.3,1305.6 212.9,1305.4 213.4,1305.7C213.9,1306.1 216.4,1313.0 216.8,1312.5C217.2,1312.0 221.0,1296.5 221.3,1295.6C221.7,1294.7 223.2,1293.9 223.6,1294.4C223.9,1295.0 227.5,1304.9 228.1,1305.7C228.7,1306.6 234.3,1311.5 234.9,1311.4C235.4,1311.3 238.9,1303.9 239.4,1303.5C239.9,1303.1 244.6,1304.0 245.0,1303.5C245.5,1303.0 248.1,1293.9 248.4,1293.3C248.7,1292.7 250.4,1290.8 250.7,1291.1C250.9,1291.3 253.6,1297.7 254.0,1297.8C254.5,1298.0 259.0,1294.2 259.7,1294.4C260.4,1294.7 267.0,1302.3 267.6,1302.3C268.2,1302.3 271.6,1294.2 272.1,1294.4C272.5,1294.7 276.1,1308.3 276.6,1308.0C277.1,1307.7 281.7,1290.0 282.2,1288.8C282.8,1287.6 287.3,1283.6 287.9,1283.2C288.5,1282.8 294.0,1280.8 294.7,1280.9C295.3,1281.0 299.8,1285.0 300.3,1285.4C300.8,1285.9 304.4,1291.1 304.8,1289.9C305.2,1288.8 307.7,1264.0 308.2,1262.9C308.6,1261.7 313.3,1266.7 313.8,1266.2C314.3,1265.8 317.8,1254.5 318.3,1253.8C318.9,1253.2 323.5,1254.3 324.0,1253.8C324.4,1253.4 327.0,1245.8 327.4,1244.8C327.8,1243.8 331.4,1234.0 331.9,1233.5C332.4,1233.0 336.9,1235.1 337.5,1234.7C338.1,1234.3 343.7,1226.6 344.3,1225.6C344.9,1224.6 348.4,1215.7 348.8,1214.4C349.3,1213.0 352.9,1199.6 353.3,1198.6C353.7,1197.5 356.3,1194.3 356.7,1194.0C357.1,1193.8 360.7,1194.7 361.2,1194.0C361.7,1193.4 366.3,1181.9 366.9,1180.5C367.4,1179.2 372.0,1168.0 372.5,1167.0C373.0,1165.9 375.5,1159.7 375.9,1159.1C376.3,1158.4 379.9,1154.1 380.4,1153.4C380.8,1152.8 384.6,1147.0 384.9,1145.5C385.2,1144.1 386.9,1125.7 387.2,1124.1C387.4,1122.5 389.1,1113.8 389.4,1112.8C389.8,1111.8 393.5,1104.6 393.9,1103.8C394.3,1103.0 396.9,1097.2 397.3,1097.0C397.8,1096.9 402.5,1100.7 403.0,1100.4C403.4,1100.1 406.0,1092.3 406.3,1091.4C406.7,1090.4 409.4,1081.8 409.7,1081.2C410.1,1080.6 412.8,1078.6 413.1,1079.0C413.4,1079.3 415.1,1088.2 415.4,1088.0C415.7,1087.8 418.5,1076.0 418.8,1074.5C419.0,1072.9 419.5,1057.4 419.9,1056.4C420.2,1055.4 425.1,1055.8 425.5,1055.3C426.0,1054.8 428.5,1047.2 428.9,1046.3C429.3,1045.4 432.9,1038.0 433.4,1037.2C433.9,1036.4 438.6,1031.5 439.1,1030.5C439.5,1029.4 442.2,1016.8 442.4,1015.8C442.7,1014.8 444.4,1010.8 444.7,1011.3C445.0,1011.8 447.6,1025.4 448.1,1025.9C448.5,1026.5 453.2,1021.3 453.7,1021.4C454.2,1021.6 457.6,1029.1 458.2,1029.3C458.9,1029.6 465.5,1025.7 466.1,1025.9C466.8,1026.2 471.2,1033.3 471.8,1033.8C472.3,1034.4 477.0,1035.0 477.4,1036.1C477.8,1037.2 479.3,1055.3 479.7,1056.4C480.0,1057.5 483.7,1058.5 484.2,1058.7C484.6,1058.8 488.3,1059.0 488.7,1059.8C489.1,1060.6 491.8,1072.8 492.1,1074.5C492.4,1076.1 493.9,1091.5 494.3,1092.5C494.7,1093.5 499.5,1094.1 500.0,1094.8C500.4,1095.4 503.0,1104.1 503.4,1106.0C503.8,1108.0 507.4,1132.1 507.9,1133.1C508.4,1134.2 513.1,1127.3 513.5,1127.5C514.0,1127.7 516.5,1136.1 516.9,1137.6C517.3,1139.2 521.0,1156.4 521.4,1157.9C521.9,1159.5 525.4,1167.2 525.9,1168.1C526.4,1168.9 531.0,1173.8 531.6,1174.9C532.1,1175.9 536.8,1188.3 537.2,1189.5C537.7,1190.7 540.0,1198.4 540.6,1198.6C541.2,1198.7 547.9,1191.3 548.5,1191.8C549.1,1192.2 552.6,1206.3 553.0,1207.6C553.4,1208.9 556.4,1216.6 556.9,1217.7C557.4,1218.9 562.0,1230.0 562.6,1230.1C563.1,1230.3 567.7,1220.0 568.2,1220.0C568.7,1220.0 572.1,1229.7 572.7,1230.1C573.3,1230.6 579.9,1228.5 580.6,1229.0C581.3,1229.6 586.8,1241.0 587.4,1241.4C587.9,1241.8 591.4,1237.0 591.9,1236.9C592.4,1236.9 596.9,1240.3 597.5,1240.3C598.2,1240.3 603.7,1236.2 604.3,1236.9C604.9,1237.6 608.4,1252.9 608.8,1253.8C609.2,1254.7 611.8,1255.4 612.2,1255.0C612.7,1254.5 617.3,1245.3 617.8,1244.8C618.4,1244.3 622.9,1244.4 623.5,1244.8C624.0,1245.2 628.6,1251.9 629.1,1252.7C629.7,1253.6 634.1,1261.2 634.8,1261.7C635.4,1262.3 641.0,1264.7 641.5,1264.0C642.0,1263.3 644.6,1248.1 644.9,1247.1C645.3,1246.1 648.0,1243.1 648.3,1243.7C648.6,1244.2 651.2,1257.6 651.7,1258.3C652.2,1259.1 657.9,1258.9 658.5,1259.5C659.0,1260.0 662.6,1268.7 663.0,1269.6C663.4,1270.6 665.8,1278.4 666.4,1278.7C666.9,1278.9 672.5,1275.9 673.1,1275.3C673.7,1274.7 678.0,1266.8 678.8,1266.2C679.5,1265.7 687.1,1265.8 687.8,1265.1C688.5,1264.4 691.8,1252.3 692.3,1252.7C692.8,1253.1 697.4,1272.9 697.9,1273.0C698.4,1273.1 701.9,1255.4 702.5,1255.0C703.0,1254.5 708.5,1263.9 709.2,1264.0C709.9,1264.0 715.4,1256.4 716.0,1256.1C716.6,1255.8 720.1,1257.4 720.5,1257.2C721.0,1257.1 724.6,1252.0 725.0,1252.7C725.5,1253.4 729.0,1271.4 729.5,1271.9C730.0,1272.4 734.7,1263.4 735.2,1262.9C735.7,1262.4 739.0,1261.4 739.7,1261.7C740.4,1262.1 748.0,1269.5 748.7,1269.6C749.4,1269.7 753.6,1264.2 754.4,1264.0C755.1,1263.8 762.5,1266.6 763.4,1266.2C764.3,1265.9 771.6,1257.7 772.4,1257.2C773.2,1256.7 778.5,1256.3 779.2,1256.1C779.8,1255.9 784.2,1252.6 784.8,1252.7C785.4,1252.8 790.9,1258.4 791.6,1258.3C792.3,1258.3 797.8,1251.7 798.3,1251.6C798.9,1251.5 802.4,1255.9 802.9,1256.1C803.4,1256.3 808.0,1254.6 808.5,1255.0C809.0,1255.3 812.4,1262.7 813.0,1262.9C813.6,1263.0 820.3,1259.2 820.9,1258.3C821.5,1257.5 824.0,1246.7 824.3,1245.9C824.6,1245.2 827.3,1243.0 827.7,1243.7C828.1,1244.4 831.7,1258.7 832.2,1259.5C832.6,1260.3 836.3,1260.2 836.7,1259.5C837.1,1258.8 839.6,1246.6 840.1,1245.9C840.5,1245.3 845.2,1247.1 845.7,1247.1C846.2,1247.1 849.8,1244.8 850.2,1245.9C850.6,1247.1 853.2,1270.1 853.6,1270.8C854.0,1271.4 857.6,1258.9 858.1,1258.3C858.7,1257.8 864.2,1259.8 864.9,1259.5C865.6,1259.1 872.2,1252.8 872.8,1251.6C873.4,1250.4 875.7,1236.7 876.2,1235.8C876.6,1234.9 881.3,1232.6 881.8,1233.5C882.4,1234.4 886.9,1253.3 887.5,1253.8C888.1,1254.4 893.6,1245.4 894.2,1244.8C894.9,1244.2 900.2,1242.7 901.0,1242.6C901.8,1242.4 909.2,1241.4 910.0,1241.4C910.8,1241.5 916.1,1243.4 916.8,1243.7C917.5,1244.0 923.0,1247.2 923.6,1247.1C924.2,1247.0 928.6,1241.5 929.2,1241.4C929.8,1241.4 935.4,1246.2 936.0,1245.9C936.6,1245.7 941.1,1235.8 941.6,1235.8C942.2,1235.8 946.8,1246.0 947.3,1245.9C947.8,1245.9 951.3,1235.2 951.8,1234.7C952.2,1234.1 955.8,1235.4 956.3,1235.8C956.8,1236.1 961.4,1241.2 961.9,1241.4C962.5,1241.7 967.0,1240.7 967.6,1240.3C968.2,1239.9 973.8,1233.5 974.3,1233.5C974.9,1233.5 978.4,1239.6 978.9,1240.3C979.3,1241.0 982.7,1248.2 983.4,1248.2C984.0,1248.2 990.5,1240.9 991.3,1240.3C992.0,1239.7 997.4,1236.1 998.0,1235.8C998.7,1235.5 1004.2,1235.1 1004.8,1234.7C1005.4,1234.3 1009.8,1227.9 1010.4,1227.9C1011.1,1227.9 1016.5,1234.4 1017.2,1234.7C1017.9,1234.9 1024.3,1232.4 1025.1,1232.4C1025.9,1232.4 1032.6,1234.5 1033.0,1234.7C1033.4,1234.8 1033.2,1235.4 1033.5,1235.8C1033.9,1236.1 1039.7,1241.2 1040.3,1241.4C1040.9,1241.7 1044.4,1240.7 1044.8,1240.3C1045.2,1239.8 1047.8,1232.6 1048.2,1232.4C1048.6,1232.2 1052.3,1236.9 1052.7,1236.9C1053.2,1236.9 1056.8,1232.2 1057.2,1232.4C1057.7,1232.6 1061.3,1241.5 1061.7,1241.4C1062.2,1241.3 1065.8,1230.1 1066.3,1230.1C1066.7,1230.2 1070.3,1241.9 1070.8,1242.6C1071.3,1243.2 1075.8,1243.5 1076.4,1243.7C1077.0,1243.9 1082.6,1247.3 1083.2,1247.1C1083.8,1246.8 1088.3,1239.5 1088.8,1239.2C1089.4,1238.8 1094.0,1240.6 1094.5,1240.3C1095.0,1240.0 1098.5,1232.7 1099.0,1232.4C1099.4,1232.1 1103.0,1234.1 1103.5,1234.7C1104.0,1235.2 1108.7,1242.9 1109.1,1243.7C1109.6,1244.4 1112.1,1249.7 1112.5,1249.3C1112.9,1249.0 1116.6,1237.0 1117.0,1236.9C1117.5,1236.8 1121.1,1246.9 1121.5,1247.1C1122.0,1247.2 1125.6,1240.6 1126.0,1240.3C1126.5,1240.0 1130.1,1240.6 1130.6,1240.3C1131.1,1240.0 1135.7,1233.9 1136.2,1233.5C1136.7,1233.1 1140.3,1232.2 1140.7,1232.4C1141.2,1232.6 1144.8,1236.9 1145.2,1236.9C1145.7,1237.0 1149.2,1233.3 1149.7,1233.5C1150.2,1233.8 1154.9,1241.0 1155.4,1241.4C1155.9,1241.9 1159.4,1242.2 1159.9,1242.6C1160.3,1242.9 1164.0,1248.3 1164.4,1248.2C1164.9,1248.1 1168.5,1242.8 1168.9,1241.4C1169.3,1240.0 1172.0,1220.8 1172.3,1220.0C1172.6,1219.2 1175.4,1225.0 1175.7,1225.6C1176.0,1226.3 1177.6,1233.4 1177.9,1233.5C1178.3,1233.6 1181.9,1227.9 1182.5,1227.9C1183.0,1227.9 1187.6,1233.4 1188.1,1233.5C1188.6,1233.7 1192.2,1231.3 1192.6,1231.3C1193.1,1231.2 1196.7,1232.7 1197.1,1232.4C1197.6,1232.1 1201.2,1226.1 1201.6,1225.6C1202.1,1225.2 1205.7,1223.4 1206.1,1223.4C1206.6,1223.4 1210.2,1224.9 1210.7,1225.6C1211.1,1226.4 1214.8,1237.9 1215.2,1238.0C1215.6,1238.2 1218.1,1229.9 1218.6,1229.0C1219.0,1228.2 1223.7,1222.1 1224.2,1221.1C1224.6,1220.1 1227.2,1208.8 1227.6,1208.7C1228.0,1208.7 1231.6,1219.8 1232.1,1220.0C1232.5,1220.2 1236.1,1213.1 1236.6,1213.2C1237.1,1213.4 1241.7,1223.4 1242.2,1223.4C1242.8,1223.3 1246.4,1213.5 1246.8,1212.1C1247.2,1210.7 1249.9,1196.1 1250.1,1195.2C1250.4,1194.3 1252.1,1193.7 1252.4,1194.0C1252.7,1194.4 1255.4,1201.7 1255.8,1201.9C1256.2,1202.2 1259.8,1198.8 1260.3,1198.6C1260.7,1198.3 1264.4,1196.9 1264.8,1196.3C1265.3,1195.7 1268.9,1186.8 1269.3,1186.1C1269.8,1185.5 1273.3,1184.1 1273.8,1183.9C1274.3,1183.7 1279.0,1182.3 1279.5,1182.8C1280.0,1183.2 1283.5,1193.1 1284.0,1192.9C1284.4,1192.7 1288.1,1180.7 1288.5,1179.4C1288.9,1178.0 1291.4,1166.2 1291.9,1165.8C1292.3,1165.5 1297.0,1172.9 1297.5,1172.6C1298.0,1172.3 1301.6,1161.0 1302.0,1160.2C1302.5,1159.4 1306.1,1156.4 1306.6,1155.7C1307.0,1155.0 1310.6,1146.4 1311.1,1146.7C1311.5,1146.9 1315.2,1162.3 1315.6,1161.3C1316.0,1160.4 1318.7,1129.2 1319.0,1127.5C1319.2,1125.7 1320.9,1125.9 1321.2,1126.4C1321.6,1126.8 1325.2,1136.2 1325.7,1136.5C1326.2,1136.8 1330.9,1132.2 1331.4,1132.0C1331.9,1131.8 1335.3,1133.3 1335.9,1133.1C1336.4,1133.0 1342.0,1129.2 1342.7,1128.6C1343.3,1128.0 1348.6,1122.3 1349.4,1121.8C1350.2,1121.3 1357.7,1119.0 1358.4,1118.5C1359.2,1117.9 1363.6,1111.0 1364.1,1110.6C1364.5,1110.1 1367.1,1109.0 1367.5,1109.4C1367.9,1109.8 1371.5,1118.3 1372.0,1118.5C1372.5,1118.6 1377.1,1112.2 1377.6,1111.7C1378.1,1111.2 1381.6,1108.3 1382.1,1108.3C1382.7,1108.3 1388.3,1111.5 1388.9,1111.7C1389.5,1111.9 1394.2,1110.8 1394.5,1111.7C1394.9,1112.5 1396.5,1127.4 1396.8,1128.6C1397.1,1129.8 1399.6,1134.8 1400.2,1135.4C1400.8,1136.0 1407.4,1140.6 1408.1,1141.0C1408.8,1141.5 1414.1,1144.2 1414.9,1144.4C1415.6,1144.6 1422.1,1143.9 1422.8,1144.4C1423.4,1144.9 1426.8,1153.9 1427.3,1154.6C1427.8,1155.2 1432.5,1158.0 1432.9,1157.9C1433.3,1157.9 1434.8,1152.6 1435.2,1153.4C1435.5,1154.2 1439.2,1173.6 1439.7,1173.7C1440.2,1173.9 1444.8,1156.5 1445.3,1156.8C1445.8,1157.2 1449.2,1179.4 1449.8,1180.5C1450.4,1181.6 1457.1,1178.8 1457.7,1179.4C1458.3,1179.9 1461.7,1191.1 1462.2,1191.8C1462.7,1192.5 1467.4,1193.9 1467.9,1194.0C1468.4,1194.2 1471.9,1195.8 1472.4,1195.2C1472.8,1194.6 1476.5,1181.9 1476.9,1181.6C1477.4,1181.4 1481.0,1188.3 1481.4,1189.5C1481.9,1190.8 1485.4,1206.2 1485.9,1206.5C1486.4,1206.7 1491.1,1195.7 1491.6,1195.2C1492.1,1194.7 1495.6,1196.6 1496.1,1196.3C1496.5,1196.0 1500.1,1189.6 1500.6,1189.5C1501.1,1189.4 1505.7,1193.8 1506.2,1194.0C1506.7,1194.3 1510.3,1193.6 1510.7,1194.0C1511.2,1194.4 1515.0,1201.4 1515.3,1201.9C1515.5,1202.5 1515.4,1205.6 1515.8,1205.3C1516.2,1205.0 1521.9,1196.5 1522.6,1196.3C1523.2,1196.1 1527.7,1201.7 1528.2,1201.9C1528.7,1202.2 1532.3,1201.3 1532.7,1201.9C1533.2,1202.6 1536.7,1213.9 1537.2,1214.4C1537.8,1214.8 1543.3,1211.1 1544.0,1211.0C1544.7,1210.8 1551.1,1211.3 1551.9,1211.0C1552.7,1210.6 1559.1,1203.9 1559.8,1204.2C1560.5,1204.5 1564.8,1216.6 1565.4,1216.6C1566.1,1216.6 1572.7,1204.3 1573.3,1204.2C1574.0,1204.1 1577.3,1213.4 1577.8,1214.4C1578.4,1215.3 1582.9,1222.3 1583.5,1222.2C1584.0,1222.2 1588.4,1213.3 1589.1,1213.2C1589.8,1213.2 1596.3,1220.9 1597.0,1221.1C1597.8,1221.3 1603.1,1216.6 1603.8,1216.6C1604.5,1216.7 1610.9,1222.4 1611.7,1222.2C1612.5,1222.1 1618.9,1213.0 1619.6,1213.2C1620.3,1213.4 1624.7,1226.7 1625.2,1226.8C1625.7,1226.8 1629.2,1214.8 1629.7,1214.4C1630.3,1213.9 1635.8,1218.0 1636.5,1217.7C1637.2,1217.5 1643.8,1208.9 1644.4,1208.7C1645.0,1208.5 1648.4,1212.4 1648.9,1213.2C1649.4,1214.1 1653.9,1225.6 1654.6,1225.6C1655.2,1225.7 1660.6,1215.3 1661.3,1214.4C1662.1,1213.4 1668.4,1207.5 1669.2,1207.6C1670.0,1207.6 1676.5,1215.5 1677.1,1215.5C1677.7,1215.4 1681.0,1206.7 1681.6,1206.5C1682.3,1206.2 1688.9,1210.5 1689.5,1211.0C1690.2,1211.5 1694.7,1216.5 1695.2,1216.6C1695.6,1216.7 1698.2,1212.8 1698.6,1213.2C1699.0,1213.6 1702.6,1225.2 1703.1,1224.5C1703.5,1223.8 1707.2,1200.0 1707.6,1198.6C1708.0,1197.1 1710.5,1195.3 1711.0,1196.3C1711.5,1197.3 1717.2,1217.5 1717.7,1217.7C1718.3,1218.0 1721.7,1202.2 1722.2,1201.9C1722.8,1201.7 1727.2,1212.7 1727.9,1213.2C1728.6,1213.7 1735.1,1212.4 1735.8,1212.1C1736.5,1211.8 1741.0,1207.5 1741.4,1206.5C1741.9,1205.4 1744.2,1192.2 1744.8,1191.8C1745.4,1191.4 1752.7,1197.4 1753.8,1198.6C1755.0,1199.7 1767.4,1214.5 1768.5,1214.4C1769.6,1214.2 1775.6,1195.8 1776.4,1195.2C1777.2,1194.6 1783.6,1201.2 1784.3,1201.9C1785.0,1202.7 1790.5,1209.7 1791.1,1209.8C1791.6,1210.0 1795.1,1204.1 1795.6,1204.2C1796.1,1204.3 1800.7,1211.4 1801.2,1211.0C1801.8,1210.6 1806.2,1197.0 1806.9,1196.3C1807.5,1195.6 1813.0,1196.0 1813.6,1196.3C1814.3,1196.6 1819.8,1201.0 1820.4,1201.9C1821.0,1202.9 1824.2,1215.3 1824.9,1215.5C1825.6,1215.7 1833.1,1207.6 1833.9,1206.5C1834.8,1205.3 1841.1,1192.1 1841.8,1191.8C1842.6,1191.5 1847.9,1200.2 1848.6,1200.8C1849.3,1201.4 1855.5,1204.1 1856.5,1204.2C1857.5,1204.3 1866.9,1201.8 1867.8,1201.9C1868.7,1202.1 1873.9,1206.5 1874.5,1206.5C1875.2,1206.5 1880.6,1202.6 1881.3,1201.9C1882.0,1201.3 1887.3,1193.7 1888.1,1194.0C1888.9,1194.4 1896.4,1208.8 1897.1,1208.7C1897.8,1208.7 1902.2,1193.9 1902.8,1192.9C1903.3,1192.0 1906.5,1189.5 1907.3,1189.5C1908.0,1189.5 1916.3,1192.7 1917.4,1192.9C1918.5,1193.1 1927.7,1194.1 1928.7,1194.0C1929.7,1194.0 1937.0,1191.5 1937.7,1191.8C1938.5,1192.1 1942.9,1200.0 1943.4,1199.7C1943.9,1199.3 1947.4,1185.6 1947.9,1185.0C1948.4,1184.4 1952.9,1186.9 1953.5,1187.3C1954.1,1187.6 1959.4,1190.7 1960.3,1191.8C1961.1,1192.9 1969.7,1209.9 1970.4,1209.8C1971.2,1209.8 1975.6,1191.2 1976.1,1190.7C1976.6,1190.2 1979.9,1199.5 1980.6,1199.7C1981.3,1199.9 1990.1,1195.8 1990.7,1195.2C1991.4,1194.5 1993.7,1186.6 1994.1,1186.1C1994.6,1185.7 1999.4,1186.7 2000.2,1186.7C2001.0,1186.6 2008.7,1185.0 2009.5,1185.2C2010.3,1185.4 2015.4,1190.9 2015.9,1191.0C2016.4,1191.0 2019.3,1187.4 2019.5,1186.7C2019.8,1185.9 2020.7,1176.5 2020.9,1175.9C2021.2,1175.4 2023.5,1175.5 2023.8,1175.9C2024.1,1176.3 2026.3,1183.0 2026.7,1183.8C2027.0,1184.6 2030.5,1190.9 2031.0,1191.0C2031.4,1191.1 2035.5,1186.5 2036.0,1185.9C2036.4,1185.4 2039.2,1179.7 2039.5,1179.5C2039.9,1179.3 2042.8,1181.0 2043.1,1181.7C2043.4,1182.3 2045.7,1191.7 2046.0,1191.7C2046.3,1191.6 2049.3,1181.2 2049.6,1180.2C2049.8,1179.3 2051.4,1173.5 2051.7,1173.1C2052.0,1172.6 2054.9,1171.5 2055.3,1171.6C2055.7,1171.8 2059.1,1175.9 2059.6,1175.9C2060.0,1176.0 2064.1,1173.4 2064.6,1173.1C2065.1,1172.7 2069.1,1169.7 2069.6,1169.5C2070.1,1169.2 2073.5,1167.7 2073.9,1168.1C2074.3,1168.5 2076.4,1176.7 2076.8,1177.4C2077.1,1178.0 2080.5,1181.5 2081.1,1181.7C2081.6,1181.8 2086.4,1180.2 2086.8,1179.5C2087.2,1178.8 2088.7,1168.2 2088.9,1167.3C2089.2,1166.5 2091.5,1162.2 2091.8,1162.3C2092.1,1162.5 2095.0,1169.8 2095.4,1170.9C2095.8,1172.0 2099.3,1184.1 2099.7,1184.5C2100.1,1185.0 2102.9,1181.1 2103.2,1180.2C2103.6,1179.3 2105.7,1167.6 2106.1,1166.6C2106.5,1165.6 2110.0,1160.4 2110.4,1160.2C2110.8,1160.0 2114.3,1162.8 2114.7,1163.0C2115.1,1163.3 2118.5,1163.9 2119.0,1164.5C2119.4,1165.0 2123.5,1173.7 2124.0,1173.8C2124.5,1173.9 2127.7,1167.3 2128.3,1166.6C2128.8,1165.9 2134.4,1159.8 2134.7,1159.5"/></g>
<line class="dot" x1="487.0" y1="200.95" x2="490.5" y2="1340.8"/>
<line class="dot" x1="880.0" y1="342.95" x2="874.6" y2="1354.6"/>
<line class="dot" x1="1802.0" y1="297.05" x2="1811.4" y2="1343.0"/>
<g transform="translate(68.50,1475.40) scale(1,1.06)"><text class="tick" x="0" y="0">925</text></g>
<g transform="translate(299.30,1475.40) scale(1,1.06)"><text class="tick" x="0" y="0">930</text></g>
<g transform="translate(530.10,1475.40) scale(1,1.06)"><text class="tick" x="0" y="0">935</text></g>
<g transform="translate(760.90,1475.40) scale(1,1.06)"><text class="tick" x="0" y="0">940</text></g>
<g transform="translate(991.70,1475.40) scale(1,1.06)"><text class="tick" x="0" y="0">945</text></g>
<g transform="translate(1222.50,1475.40) scale(1,1.06)"><text class="tick" x="0" y="0">950</text></g>
<g transform="translate(1453.30,1475.40) scale(1,1.06)"><text class="tick" x="0" y="0">955</text></g>
<g transform="translate(1684.10,1475.40) scale(1,1.06)"><text class="tick" x="0" y="0">960</text></g>
<g transform="translate(1914.90,1475.40) scale(1,1.06)"><text class="tick" x="0" y="0">965</text></g>
<g transform="translate(2145.70,1475.40) scale(1,1.06)"><text class="tick" x="0" y="0">970</text></g>
<g transform="translate(1108.50,1567.00) scale(1,1.035)"><text class="title" x="0" y="0">Binding energy, eV</text></g>
<line x1="271.6" y1="597.3" x2="390.8" y2="472.9" stroke="#000" stroke-width="7.4"/>
<polygon points="403.9,459.2 397.0,481.6 381.8,467.1" fill="#000"/>
<g transform="translate(2039.50,284.40)"><text class="lab" x="0" y="0">a</text></g>
<g transform="translate(2083.84,283.80) scale(0.873,0.993)"><text class="lab" x="0" y="0">)</text></g>
<g transform="translate(2044.00,645.20)"><text class="lab" x="0" y="0">b</text></g>
<g transform="translate(2091.74,644.60) scale(0.873,0.993)"><text class="lab" x="0" y="0">)</text></g>
<g transform="translate(2048.00,939.50)"><text class="lab" x="0" y="0">c</text></g>
<g transform="translate(2090.74,938.90) scale(0.873,0.993)"><text class="lab" x="0" y="0">)</text></g>
<g transform="translate(2045.80,1138.30)"><text class="lab" x="0" y="0">d</text></g>
<g transform="translate(2092.84,1137.70) scale(0.873,0.993)"><text class="lab" x="0" y="0">)</text></g>
</svg></body></html>
